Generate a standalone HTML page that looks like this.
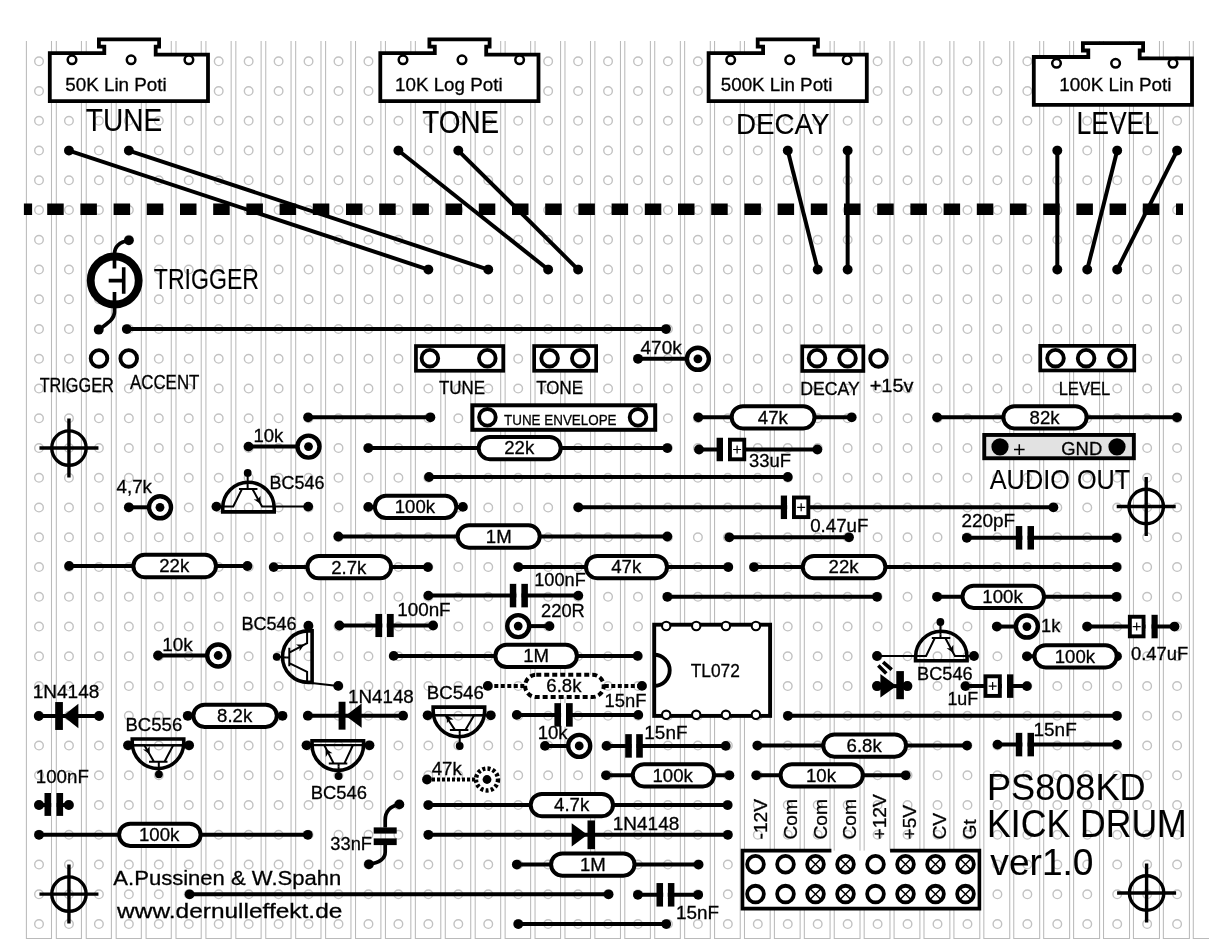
<!DOCTYPE html>
<html><head><meta charset="utf-8"><style>html,body{margin:0;padding:0;background:#fff;overflow:hidden}svg{display:block;filter:grayscale(1)}text{font-family:"Liberation Sans",sans-serif;fill:#000;stroke:#000;stroke-width:0.3px}text.b{stroke-width:0.1px}</style></head>
<body><svg width="1209" height="939" viewBox="0 0 1209 939" font-family="Liberation Sans, sans-serif"><rect width="1209" height="939" fill="#fff"/>
<path d="M26.4 41V939M51.5 41V939M26.4 938.5H51.5M56.32 41V939M81.44 41V939M56.32 938.5H81.44M86.24 41V939M111.39 41V939M86.24 938.5H111.39M116.16 41V939M141.34 41V939M116.16 938.5H141.34M146.08 41V939M171.28 41V939M146.08 938.5H171.28M176 41V939M201.22 41V939M176 938.5H201.22M205.92 41V939M231.17 41V939M205.92 938.5H231.17M235.84 41V939M261.12 41V939M235.84 938.5H261.12M265.76 41V939M291.06 41V939M265.76 938.5H291.06M295.68 41V939M321 41V939M295.68 938.5H321M325.6 41V939M350.95 41V939M325.6 938.5H350.95M355.52 41V939M380.89 41V939M355.52 938.5H380.89M385.44 41V939M410.84 41V939M385.44 938.5H410.84M415.36 41V939M440.79 41V939M415.36 938.5H440.79M445.28 41V939M470.73 41V939M445.28 938.5H470.73M475.2 41V939M500.68 41V939M475.2 938.5H500.68M505.12 41V939M530.62 41V939M505.12 938.5H530.62M535.04 41V939M560.57 41V939M535.04 938.5H560.57M564.96 41V939M590.51 41V939M564.96 938.5H590.51M594.88 41V939M620.46 41V939M594.88 938.5H620.46M624.8 41V939M650.4 41V939M624.8 938.5H650.4M654.72 41V939M680.35 41V939M654.72 938.5H680.35M684.64 41V939M710.29 41V939M684.64 938.5H710.29M714.56 41V939M740.24 41V939M714.56 938.5H740.24M744.48 41V939M770.18 41V939M744.48 938.5H770.18M774.4 41V939M800.12 41V939M774.4 938.5H800.12M804.32 41V939M830.07 41V939M804.32 938.5H830.07M834.24 41V939M860.01 41V939M834.24 938.5H860.01M864.16 41V939M889.96 41V939M864.16 938.5H889.96M894.08 41V939M919.9 41V939M894.08 938.5H919.9M924 41V939M949.85 41V939M924 938.5H949.85M953.92 41V939M979.79 41V939M953.92 938.5H979.79M983.84 41V939M1009.74 41V939M983.84 938.5H1009.74M1013.76 41V939M1039.68 41V939M1013.76 938.5H1039.68M1043.68 41V939M1069.63 41V939M1043.68 938.5H1069.63M1073.6 41V939M1099.58 41V939M1073.6 938.5H1099.58M1103.52 41V939M1129.52 41V939M1103.52 938.5H1129.52M1133.44 41V939M1159.46 41V939M1133.44 938.5H1159.46M1163.36 41V939M1189.41 41V939M1163.36 938.5H1189.41M1193.28 41V939M1193.28 938.5H1209" stroke="#bababa" stroke-width="1.05" fill="none"/>
<g fill="none" stroke="#c2c2c2" stroke-width="1.4"><circle cx="39" cy="61.3" r="4.3"/><circle cx="39" cy="91.05" r="4.3"/><circle cx="39" cy="120.8" r="4.3"/><circle cx="39" cy="150.55" r="4.3"/><circle cx="39" cy="180.3" r="4.3"/><circle cx="39" cy="210.05" r="4.3"/><circle cx="39" cy="239.8" r="4.3"/><circle cx="39" cy="269.55" r="4.3"/><circle cx="39" cy="299.3" r="4.3"/><circle cx="39" cy="329.05" r="4.3"/><circle cx="39" cy="358.8" r="4.3"/><circle cx="39" cy="388.55" r="4.3"/><circle cx="39" cy="418.3" r="4.3"/><circle cx="39" cy="448.05" r="4.3"/><circle cx="39" cy="477.8" r="4.3"/><circle cx="39" cy="507.55" r="4.3"/><circle cx="39" cy="537.3" r="4.3"/><circle cx="39" cy="567.05" r="4.3"/><circle cx="39" cy="596.8" r="4.3"/><circle cx="39" cy="626.55" r="4.3"/><circle cx="39" cy="656.3" r="4.3"/><circle cx="39" cy="686.05" r="4.3"/><circle cx="39" cy="715.8" r="4.3"/><circle cx="39" cy="745.55" r="4.3"/><circle cx="39" cy="775.3" r="4.3"/><circle cx="39" cy="805.05" r="4.3"/><circle cx="39" cy="834.8" r="4.3"/><circle cx="39" cy="864.55" r="4.3"/><circle cx="39" cy="894.3" r="4.3"/><circle cx="39" cy="924.05" r="4.3"/><circle cx="68.95" cy="61.3" r="4.3"/><circle cx="68.95" cy="91.05" r="4.3"/><circle cx="68.95" cy="120.8" r="4.3"/><circle cx="68.95" cy="150.55" r="4.3"/><circle cx="68.95" cy="180.3" r="4.3"/><circle cx="68.95" cy="210.05" r="4.3"/><circle cx="68.95" cy="239.8" r="4.3"/><circle cx="68.95" cy="269.55" r="4.3"/><circle cx="68.95" cy="299.3" r="4.3"/><circle cx="68.95" cy="329.05" r="4.3"/><circle cx="68.95" cy="358.8" r="4.3"/><circle cx="68.95" cy="388.55" r="4.3"/><circle cx="68.95" cy="418.3" r="4.3"/><circle cx="68.95" cy="448.05" r="4.3"/><circle cx="68.95" cy="477.8" r="4.3"/><circle cx="68.95" cy="507.55" r="4.3"/><circle cx="68.95" cy="537.3" r="4.3"/><circle cx="68.95" cy="567.05" r="4.3"/><circle cx="68.95" cy="596.8" r="4.3"/><circle cx="68.95" cy="626.55" r="4.3"/><circle cx="68.95" cy="656.3" r="4.3"/><circle cx="68.95" cy="686.05" r="4.3"/><circle cx="68.95" cy="715.8" r="4.3"/><circle cx="68.95" cy="745.55" r="4.3"/><circle cx="68.95" cy="775.3" r="4.3"/><circle cx="68.95" cy="805.05" r="4.3"/><circle cx="68.95" cy="834.8" r="4.3"/><circle cx="68.95" cy="864.55" r="4.3"/><circle cx="68.95" cy="894.3" r="4.3"/><circle cx="68.95" cy="924.05" r="4.3"/><circle cx="98.9" cy="61.3" r="4.3"/><circle cx="98.9" cy="91.05" r="4.3"/><circle cx="98.9" cy="120.8" r="4.3"/><circle cx="98.9" cy="150.55" r="4.3"/><circle cx="98.9" cy="180.3" r="4.3"/><circle cx="98.9" cy="210.05" r="4.3"/><circle cx="98.9" cy="239.8" r="4.3"/><circle cx="98.9" cy="269.55" r="4.3"/><circle cx="98.9" cy="299.3" r="4.3"/><circle cx="98.9" cy="329.05" r="4.3"/><circle cx="98.9" cy="358.8" r="4.3"/><circle cx="98.9" cy="388.55" r="4.3"/><circle cx="98.9" cy="418.3" r="4.3"/><circle cx="98.9" cy="448.05" r="4.3"/><circle cx="98.9" cy="477.8" r="4.3"/><circle cx="98.9" cy="507.55" r="4.3"/><circle cx="98.9" cy="537.3" r="4.3"/><circle cx="98.9" cy="567.05" r="4.3"/><circle cx="98.9" cy="596.8" r="4.3"/><circle cx="98.9" cy="626.55" r="4.3"/><circle cx="98.9" cy="656.3" r="4.3"/><circle cx="98.9" cy="686.05" r="4.3"/><circle cx="98.9" cy="715.8" r="4.3"/><circle cx="98.9" cy="745.55" r="4.3"/><circle cx="98.9" cy="775.3" r="4.3"/><circle cx="98.9" cy="805.05" r="4.3"/><circle cx="98.9" cy="834.8" r="4.3"/><circle cx="98.9" cy="864.55" r="4.3"/><circle cx="98.9" cy="894.3" r="4.3"/><circle cx="98.9" cy="924.05" r="4.3"/><circle cx="128.85" cy="61.3" r="4.3"/><circle cx="128.85" cy="91.05" r="4.3"/><circle cx="128.85" cy="120.8" r="4.3"/><circle cx="128.85" cy="150.55" r="4.3"/><circle cx="128.85" cy="180.3" r="4.3"/><circle cx="128.85" cy="210.05" r="4.3"/><circle cx="128.85" cy="239.8" r="4.3"/><circle cx="128.85" cy="269.55" r="4.3"/><circle cx="128.85" cy="299.3" r="4.3"/><circle cx="128.85" cy="329.05" r="4.3"/><circle cx="128.85" cy="358.8" r="4.3"/><circle cx="128.85" cy="388.55" r="4.3"/><circle cx="128.85" cy="418.3" r="4.3"/><circle cx="128.85" cy="448.05" r="4.3"/><circle cx="128.85" cy="477.8" r="4.3"/><circle cx="128.85" cy="507.55" r="4.3"/><circle cx="128.85" cy="537.3" r="4.3"/><circle cx="128.85" cy="567.05" r="4.3"/><circle cx="128.85" cy="596.8" r="4.3"/><circle cx="128.85" cy="626.55" r="4.3"/><circle cx="128.85" cy="656.3" r="4.3"/><circle cx="128.85" cy="686.05" r="4.3"/><circle cx="128.85" cy="715.8" r="4.3"/><circle cx="128.85" cy="745.55" r="4.3"/><circle cx="128.85" cy="775.3" r="4.3"/><circle cx="128.85" cy="805.05" r="4.3"/><circle cx="128.85" cy="834.8" r="4.3"/><circle cx="128.85" cy="864.55" r="4.3"/><circle cx="128.85" cy="894.3" r="4.3"/><circle cx="128.85" cy="924.05" r="4.3"/><circle cx="158.8" cy="61.3" r="4.3"/><circle cx="158.8" cy="91.05" r="4.3"/><circle cx="158.8" cy="120.8" r="4.3"/><circle cx="158.8" cy="150.55" r="4.3"/><circle cx="158.8" cy="180.3" r="4.3"/><circle cx="158.8" cy="210.05" r="4.3"/><circle cx="158.8" cy="239.8" r="4.3"/><circle cx="158.8" cy="269.55" r="4.3"/><circle cx="158.8" cy="299.3" r="4.3"/><circle cx="158.8" cy="329.05" r="4.3"/><circle cx="158.8" cy="358.8" r="4.3"/><circle cx="158.8" cy="388.55" r="4.3"/><circle cx="158.8" cy="418.3" r="4.3"/><circle cx="158.8" cy="448.05" r="4.3"/><circle cx="158.8" cy="477.8" r="4.3"/><circle cx="158.8" cy="507.55" r="4.3"/><circle cx="158.8" cy="537.3" r="4.3"/><circle cx="158.8" cy="567.05" r="4.3"/><circle cx="158.8" cy="596.8" r="4.3"/><circle cx="158.8" cy="626.55" r="4.3"/><circle cx="158.8" cy="656.3" r="4.3"/><circle cx="158.8" cy="686.05" r="4.3"/><circle cx="158.8" cy="715.8" r="4.3"/><circle cx="158.8" cy="745.55" r="4.3"/><circle cx="158.8" cy="775.3" r="4.3"/><circle cx="158.8" cy="805.05" r="4.3"/><circle cx="158.8" cy="834.8" r="4.3"/><circle cx="158.8" cy="864.55" r="4.3"/><circle cx="158.8" cy="894.3" r="4.3"/><circle cx="158.8" cy="924.05" r="4.3"/><circle cx="188.75" cy="61.3" r="4.3"/><circle cx="188.75" cy="91.05" r="4.3"/><circle cx="188.75" cy="120.8" r="4.3"/><circle cx="188.75" cy="150.55" r="4.3"/><circle cx="188.75" cy="180.3" r="4.3"/><circle cx="188.75" cy="210.05" r="4.3"/><circle cx="188.75" cy="239.8" r="4.3"/><circle cx="188.75" cy="269.55" r="4.3"/><circle cx="188.75" cy="299.3" r="4.3"/><circle cx="188.75" cy="329.05" r="4.3"/><circle cx="188.75" cy="358.8" r="4.3"/><circle cx="188.75" cy="388.55" r="4.3"/><circle cx="188.75" cy="418.3" r="4.3"/><circle cx="188.75" cy="448.05" r="4.3"/><circle cx="188.75" cy="477.8" r="4.3"/><circle cx="188.75" cy="507.55" r="4.3"/><circle cx="188.75" cy="537.3" r="4.3"/><circle cx="188.75" cy="567.05" r="4.3"/><circle cx="188.75" cy="596.8" r="4.3"/><circle cx="188.75" cy="626.55" r="4.3"/><circle cx="188.75" cy="656.3" r="4.3"/><circle cx="188.75" cy="686.05" r="4.3"/><circle cx="188.75" cy="715.8" r="4.3"/><circle cx="188.75" cy="745.55" r="4.3"/><circle cx="188.75" cy="775.3" r="4.3"/><circle cx="188.75" cy="805.05" r="4.3"/><circle cx="188.75" cy="834.8" r="4.3"/><circle cx="188.75" cy="864.55" r="4.3"/><circle cx="188.75" cy="894.3" r="4.3"/><circle cx="188.75" cy="924.05" r="4.3"/><circle cx="218.7" cy="61.3" r="4.3"/><circle cx="218.7" cy="91.05" r="4.3"/><circle cx="218.7" cy="120.8" r="4.3"/><circle cx="218.7" cy="150.55" r="4.3"/><circle cx="218.7" cy="180.3" r="4.3"/><circle cx="218.7" cy="210.05" r="4.3"/><circle cx="218.7" cy="239.8" r="4.3"/><circle cx="218.7" cy="269.55" r="4.3"/><circle cx="218.7" cy="299.3" r="4.3"/><circle cx="218.7" cy="329.05" r="4.3"/><circle cx="218.7" cy="358.8" r="4.3"/><circle cx="218.7" cy="388.55" r="4.3"/><circle cx="218.7" cy="418.3" r="4.3"/><circle cx="218.7" cy="448.05" r="4.3"/><circle cx="218.7" cy="477.8" r="4.3"/><circle cx="218.7" cy="507.55" r="4.3"/><circle cx="218.7" cy="537.3" r="4.3"/><circle cx="218.7" cy="567.05" r="4.3"/><circle cx="218.7" cy="596.8" r="4.3"/><circle cx="218.7" cy="626.55" r="4.3"/><circle cx="218.7" cy="656.3" r="4.3"/><circle cx="218.7" cy="686.05" r="4.3"/><circle cx="218.7" cy="715.8" r="4.3"/><circle cx="218.7" cy="745.55" r="4.3"/><circle cx="218.7" cy="775.3" r="4.3"/><circle cx="218.7" cy="805.05" r="4.3"/><circle cx="218.7" cy="834.8" r="4.3"/><circle cx="218.7" cy="864.55" r="4.3"/><circle cx="218.7" cy="894.3" r="4.3"/><circle cx="218.7" cy="924.05" r="4.3"/><circle cx="248.65" cy="61.3" r="4.3"/><circle cx="248.65" cy="91.05" r="4.3"/><circle cx="248.65" cy="120.8" r="4.3"/><circle cx="248.65" cy="150.55" r="4.3"/><circle cx="248.65" cy="180.3" r="4.3"/><circle cx="248.65" cy="210.05" r="4.3"/><circle cx="248.65" cy="239.8" r="4.3"/><circle cx="248.65" cy="269.55" r="4.3"/><circle cx="248.65" cy="299.3" r="4.3"/><circle cx="248.65" cy="329.05" r="4.3"/><circle cx="248.65" cy="358.8" r="4.3"/><circle cx="248.65" cy="388.55" r="4.3"/><circle cx="248.65" cy="418.3" r="4.3"/><circle cx="248.65" cy="448.05" r="4.3"/><circle cx="248.65" cy="477.8" r="4.3"/><circle cx="248.65" cy="507.55" r="4.3"/><circle cx="248.65" cy="537.3" r="4.3"/><circle cx="248.65" cy="567.05" r="4.3"/><circle cx="248.65" cy="596.8" r="4.3"/><circle cx="248.65" cy="626.55" r="4.3"/><circle cx="248.65" cy="656.3" r="4.3"/><circle cx="248.65" cy="686.05" r="4.3"/><circle cx="248.65" cy="715.8" r="4.3"/><circle cx="248.65" cy="745.55" r="4.3"/><circle cx="248.65" cy="775.3" r="4.3"/><circle cx="248.65" cy="805.05" r="4.3"/><circle cx="248.65" cy="834.8" r="4.3"/><circle cx="248.65" cy="864.55" r="4.3"/><circle cx="248.65" cy="894.3" r="4.3"/><circle cx="248.65" cy="924.05" r="4.3"/><circle cx="278.6" cy="61.3" r="4.3"/><circle cx="278.6" cy="91.05" r="4.3"/><circle cx="278.6" cy="120.8" r="4.3"/><circle cx="278.6" cy="150.55" r="4.3"/><circle cx="278.6" cy="180.3" r="4.3"/><circle cx="278.6" cy="210.05" r="4.3"/><circle cx="278.6" cy="239.8" r="4.3"/><circle cx="278.6" cy="269.55" r="4.3"/><circle cx="278.6" cy="299.3" r="4.3"/><circle cx="278.6" cy="329.05" r="4.3"/><circle cx="278.6" cy="358.8" r="4.3"/><circle cx="278.6" cy="388.55" r="4.3"/><circle cx="278.6" cy="418.3" r="4.3"/><circle cx="278.6" cy="448.05" r="4.3"/><circle cx="278.6" cy="477.8" r="4.3"/><circle cx="278.6" cy="507.55" r="4.3"/><circle cx="278.6" cy="537.3" r="4.3"/><circle cx="278.6" cy="567.05" r="4.3"/><circle cx="278.6" cy="596.8" r="4.3"/><circle cx="278.6" cy="626.55" r="4.3"/><circle cx="278.6" cy="656.3" r="4.3"/><circle cx="278.6" cy="686.05" r="4.3"/><circle cx="278.6" cy="715.8" r="4.3"/><circle cx="278.6" cy="745.55" r="4.3"/><circle cx="278.6" cy="775.3" r="4.3"/><circle cx="278.6" cy="805.05" r="4.3"/><circle cx="278.6" cy="834.8" r="4.3"/><circle cx="278.6" cy="864.55" r="4.3"/><circle cx="278.6" cy="894.3" r="4.3"/><circle cx="278.6" cy="924.05" r="4.3"/><circle cx="308.55" cy="61.3" r="4.3"/><circle cx="308.55" cy="91.05" r="4.3"/><circle cx="308.55" cy="120.8" r="4.3"/><circle cx="308.55" cy="150.55" r="4.3"/><circle cx="308.55" cy="180.3" r="4.3"/><circle cx="308.55" cy="210.05" r="4.3"/><circle cx="308.55" cy="239.8" r="4.3"/><circle cx="308.55" cy="269.55" r="4.3"/><circle cx="308.55" cy="299.3" r="4.3"/><circle cx="308.55" cy="329.05" r="4.3"/><circle cx="308.55" cy="358.8" r="4.3"/><circle cx="308.55" cy="388.55" r="4.3"/><circle cx="308.55" cy="418.3" r="4.3"/><circle cx="308.55" cy="448.05" r="4.3"/><circle cx="308.55" cy="477.8" r="4.3"/><circle cx="308.55" cy="507.55" r="4.3"/><circle cx="308.55" cy="537.3" r="4.3"/><circle cx="308.55" cy="567.05" r="4.3"/><circle cx="308.55" cy="596.8" r="4.3"/><circle cx="308.55" cy="626.55" r="4.3"/><circle cx="308.55" cy="656.3" r="4.3"/><circle cx="308.55" cy="686.05" r="4.3"/><circle cx="308.55" cy="715.8" r="4.3"/><circle cx="308.55" cy="745.55" r="4.3"/><circle cx="308.55" cy="775.3" r="4.3"/><circle cx="308.55" cy="805.05" r="4.3"/><circle cx="308.55" cy="834.8" r="4.3"/><circle cx="308.55" cy="864.55" r="4.3"/><circle cx="308.55" cy="894.3" r="4.3"/><circle cx="308.55" cy="924.05" r="4.3"/><circle cx="338.5" cy="61.3" r="4.3"/><circle cx="338.5" cy="91.05" r="4.3"/><circle cx="338.5" cy="120.8" r="4.3"/><circle cx="338.5" cy="150.55" r="4.3"/><circle cx="338.5" cy="180.3" r="4.3"/><circle cx="338.5" cy="210.05" r="4.3"/><circle cx="338.5" cy="239.8" r="4.3"/><circle cx="338.5" cy="269.55" r="4.3"/><circle cx="338.5" cy="299.3" r="4.3"/><circle cx="338.5" cy="329.05" r="4.3"/><circle cx="338.5" cy="358.8" r="4.3"/><circle cx="338.5" cy="388.55" r="4.3"/><circle cx="338.5" cy="418.3" r="4.3"/><circle cx="338.5" cy="448.05" r="4.3"/><circle cx="338.5" cy="477.8" r="4.3"/><circle cx="338.5" cy="507.55" r="4.3"/><circle cx="338.5" cy="537.3" r="4.3"/><circle cx="338.5" cy="567.05" r="4.3"/><circle cx="338.5" cy="596.8" r="4.3"/><circle cx="338.5" cy="626.55" r="4.3"/><circle cx="338.5" cy="656.3" r="4.3"/><circle cx="338.5" cy="686.05" r="4.3"/><circle cx="338.5" cy="715.8" r="4.3"/><circle cx="338.5" cy="745.55" r="4.3"/><circle cx="338.5" cy="775.3" r="4.3"/><circle cx="338.5" cy="805.05" r="4.3"/><circle cx="338.5" cy="834.8" r="4.3"/><circle cx="338.5" cy="864.55" r="4.3"/><circle cx="338.5" cy="894.3" r="4.3"/><circle cx="338.5" cy="924.05" r="4.3"/><circle cx="368.45" cy="61.3" r="4.3"/><circle cx="368.45" cy="91.05" r="4.3"/><circle cx="368.45" cy="120.8" r="4.3"/><circle cx="368.45" cy="150.55" r="4.3"/><circle cx="368.45" cy="180.3" r="4.3"/><circle cx="368.45" cy="210.05" r="4.3"/><circle cx="368.45" cy="239.8" r="4.3"/><circle cx="368.45" cy="269.55" r="4.3"/><circle cx="368.45" cy="299.3" r="4.3"/><circle cx="368.45" cy="329.05" r="4.3"/><circle cx="368.45" cy="358.8" r="4.3"/><circle cx="368.45" cy="388.55" r="4.3"/><circle cx="368.45" cy="418.3" r="4.3"/><circle cx="368.45" cy="448.05" r="4.3"/><circle cx="368.45" cy="477.8" r="4.3"/><circle cx="368.45" cy="507.55" r="4.3"/><circle cx="368.45" cy="537.3" r="4.3"/><circle cx="368.45" cy="567.05" r="4.3"/><circle cx="368.45" cy="596.8" r="4.3"/><circle cx="368.45" cy="626.55" r="4.3"/><circle cx="368.45" cy="656.3" r="4.3"/><circle cx="368.45" cy="686.05" r="4.3"/><circle cx="368.45" cy="715.8" r="4.3"/><circle cx="368.45" cy="745.55" r="4.3"/><circle cx="368.45" cy="775.3" r="4.3"/><circle cx="368.45" cy="805.05" r="4.3"/><circle cx="368.45" cy="834.8" r="4.3"/><circle cx="368.45" cy="864.55" r="4.3"/><circle cx="368.45" cy="894.3" r="4.3"/><circle cx="368.45" cy="924.05" r="4.3"/><circle cx="398.4" cy="61.3" r="4.3"/><circle cx="398.4" cy="91.05" r="4.3"/><circle cx="398.4" cy="120.8" r="4.3"/><circle cx="398.4" cy="150.55" r="4.3"/><circle cx="398.4" cy="180.3" r="4.3"/><circle cx="398.4" cy="210.05" r="4.3"/><circle cx="398.4" cy="239.8" r="4.3"/><circle cx="398.4" cy="269.55" r="4.3"/><circle cx="398.4" cy="299.3" r="4.3"/><circle cx="398.4" cy="329.05" r="4.3"/><circle cx="398.4" cy="358.8" r="4.3"/><circle cx="398.4" cy="388.55" r="4.3"/><circle cx="398.4" cy="418.3" r="4.3"/><circle cx="398.4" cy="448.05" r="4.3"/><circle cx="398.4" cy="477.8" r="4.3"/><circle cx="398.4" cy="507.55" r="4.3"/><circle cx="398.4" cy="537.3" r="4.3"/><circle cx="398.4" cy="567.05" r="4.3"/><circle cx="398.4" cy="596.8" r="4.3"/><circle cx="398.4" cy="626.55" r="4.3"/><circle cx="398.4" cy="656.3" r="4.3"/><circle cx="398.4" cy="686.05" r="4.3"/><circle cx="398.4" cy="715.8" r="4.3"/><circle cx="398.4" cy="745.55" r="4.3"/><circle cx="398.4" cy="775.3" r="4.3"/><circle cx="398.4" cy="805.05" r="4.3"/><circle cx="398.4" cy="834.8" r="4.3"/><circle cx="398.4" cy="864.55" r="4.3"/><circle cx="398.4" cy="894.3" r="4.3"/><circle cx="398.4" cy="924.05" r="4.3"/><circle cx="428.35" cy="61.3" r="4.3"/><circle cx="428.35" cy="91.05" r="4.3"/><circle cx="428.35" cy="120.8" r="4.3"/><circle cx="428.35" cy="150.55" r="4.3"/><circle cx="428.35" cy="180.3" r="4.3"/><circle cx="428.35" cy="210.05" r="4.3"/><circle cx="428.35" cy="239.8" r="4.3"/><circle cx="428.35" cy="269.55" r="4.3"/><circle cx="428.35" cy="299.3" r="4.3"/><circle cx="428.35" cy="329.05" r="4.3"/><circle cx="428.35" cy="358.8" r="4.3"/><circle cx="428.35" cy="388.55" r="4.3"/><circle cx="428.35" cy="418.3" r="4.3"/><circle cx="428.35" cy="448.05" r="4.3"/><circle cx="428.35" cy="477.8" r="4.3"/><circle cx="428.35" cy="507.55" r="4.3"/><circle cx="428.35" cy="537.3" r="4.3"/><circle cx="428.35" cy="567.05" r="4.3"/><circle cx="428.35" cy="596.8" r="4.3"/><circle cx="428.35" cy="626.55" r="4.3"/><circle cx="428.35" cy="656.3" r="4.3"/><circle cx="428.35" cy="686.05" r="4.3"/><circle cx="428.35" cy="715.8" r="4.3"/><circle cx="428.35" cy="745.55" r="4.3"/><circle cx="428.35" cy="775.3" r="4.3"/><circle cx="428.35" cy="805.05" r="4.3"/><circle cx="428.35" cy="834.8" r="4.3"/><circle cx="428.35" cy="864.55" r="4.3"/><circle cx="428.35" cy="894.3" r="4.3"/><circle cx="428.35" cy="924.05" r="4.3"/><circle cx="458.3" cy="61.3" r="4.3"/><circle cx="458.3" cy="91.05" r="4.3"/><circle cx="458.3" cy="120.8" r="4.3"/><circle cx="458.3" cy="150.55" r="4.3"/><circle cx="458.3" cy="180.3" r="4.3"/><circle cx="458.3" cy="210.05" r="4.3"/><circle cx="458.3" cy="239.8" r="4.3"/><circle cx="458.3" cy="269.55" r="4.3"/><circle cx="458.3" cy="299.3" r="4.3"/><circle cx="458.3" cy="329.05" r="4.3"/><circle cx="458.3" cy="358.8" r="4.3"/><circle cx="458.3" cy="388.55" r="4.3"/><circle cx="458.3" cy="418.3" r="4.3"/><circle cx="458.3" cy="448.05" r="4.3"/><circle cx="458.3" cy="477.8" r="4.3"/><circle cx="458.3" cy="507.55" r="4.3"/><circle cx="458.3" cy="537.3" r="4.3"/><circle cx="458.3" cy="567.05" r="4.3"/><circle cx="458.3" cy="596.8" r="4.3"/><circle cx="458.3" cy="626.55" r="4.3"/><circle cx="458.3" cy="656.3" r="4.3"/><circle cx="458.3" cy="686.05" r="4.3"/><circle cx="458.3" cy="715.8" r="4.3"/><circle cx="458.3" cy="745.55" r="4.3"/><circle cx="458.3" cy="775.3" r="4.3"/><circle cx="458.3" cy="805.05" r="4.3"/><circle cx="458.3" cy="834.8" r="4.3"/><circle cx="458.3" cy="864.55" r="4.3"/><circle cx="458.3" cy="894.3" r="4.3"/><circle cx="458.3" cy="924.05" r="4.3"/><circle cx="488.25" cy="61.3" r="4.3"/><circle cx="488.25" cy="91.05" r="4.3"/><circle cx="488.25" cy="120.8" r="4.3"/><circle cx="488.25" cy="150.55" r="4.3"/><circle cx="488.25" cy="180.3" r="4.3"/><circle cx="488.25" cy="210.05" r="4.3"/><circle cx="488.25" cy="239.8" r="4.3"/><circle cx="488.25" cy="269.55" r="4.3"/><circle cx="488.25" cy="299.3" r="4.3"/><circle cx="488.25" cy="329.05" r="4.3"/><circle cx="488.25" cy="358.8" r="4.3"/><circle cx="488.25" cy="388.55" r="4.3"/><circle cx="488.25" cy="418.3" r="4.3"/><circle cx="488.25" cy="448.05" r="4.3"/><circle cx="488.25" cy="477.8" r="4.3"/><circle cx="488.25" cy="507.55" r="4.3"/><circle cx="488.25" cy="537.3" r="4.3"/><circle cx="488.25" cy="567.05" r="4.3"/><circle cx="488.25" cy="596.8" r="4.3"/><circle cx="488.25" cy="626.55" r="4.3"/><circle cx="488.25" cy="656.3" r="4.3"/><circle cx="488.25" cy="686.05" r="4.3"/><circle cx="488.25" cy="715.8" r="4.3"/><circle cx="488.25" cy="745.55" r="4.3"/><circle cx="488.25" cy="775.3" r="4.3"/><circle cx="488.25" cy="805.05" r="4.3"/><circle cx="488.25" cy="834.8" r="4.3"/><circle cx="488.25" cy="864.55" r="4.3"/><circle cx="488.25" cy="894.3" r="4.3"/><circle cx="488.25" cy="924.05" r="4.3"/><circle cx="518.2" cy="61.3" r="4.3"/><circle cx="518.2" cy="91.05" r="4.3"/><circle cx="518.2" cy="120.8" r="4.3"/><circle cx="518.2" cy="150.55" r="4.3"/><circle cx="518.2" cy="180.3" r="4.3"/><circle cx="518.2" cy="210.05" r="4.3"/><circle cx="518.2" cy="239.8" r="4.3"/><circle cx="518.2" cy="269.55" r="4.3"/><circle cx="518.2" cy="299.3" r="4.3"/><circle cx="518.2" cy="329.05" r="4.3"/><circle cx="518.2" cy="358.8" r="4.3"/><circle cx="518.2" cy="388.55" r="4.3"/><circle cx="518.2" cy="418.3" r="4.3"/><circle cx="518.2" cy="448.05" r="4.3"/><circle cx="518.2" cy="477.8" r="4.3"/><circle cx="518.2" cy="507.55" r="4.3"/><circle cx="518.2" cy="537.3" r="4.3"/><circle cx="518.2" cy="567.05" r="4.3"/><circle cx="518.2" cy="596.8" r="4.3"/><circle cx="518.2" cy="626.55" r="4.3"/><circle cx="518.2" cy="656.3" r="4.3"/><circle cx="518.2" cy="686.05" r="4.3"/><circle cx="518.2" cy="715.8" r="4.3"/><circle cx="518.2" cy="745.55" r="4.3"/><circle cx="518.2" cy="775.3" r="4.3"/><circle cx="518.2" cy="805.05" r="4.3"/><circle cx="518.2" cy="834.8" r="4.3"/><circle cx="518.2" cy="864.55" r="4.3"/><circle cx="518.2" cy="894.3" r="4.3"/><circle cx="518.2" cy="924.05" r="4.3"/><circle cx="548.15" cy="61.3" r="4.3"/><circle cx="548.15" cy="91.05" r="4.3"/><circle cx="548.15" cy="120.8" r="4.3"/><circle cx="548.15" cy="150.55" r="4.3"/><circle cx="548.15" cy="180.3" r="4.3"/><circle cx="548.15" cy="210.05" r="4.3"/><circle cx="548.15" cy="239.8" r="4.3"/><circle cx="548.15" cy="269.55" r="4.3"/><circle cx="548.15" cy="299.3" r="4.3"/><circle cx="548.15" cy="329.05" r="4.3"/><circle cx="548.15" cy="358.8" r="4.3"/><circle cx="548.15" cy="388.55" r="4.3"/><circle cx="548.15" cy="418.3" r="4.3"/><circle cx="548.15" cy="448.05" r="4.3"/><circle cx="548.15" cy="477.8" r="4.3"/><circle cx="548.15" cy="507.55" r="4.3"/><circle cx="548.15" cy="537.3" r="4.3"/><circle cx="548.15" cy="567.05" r="4.3"/><circle cx="548.15" cy="596.8" r="4.3"/><circle cx="548.15" cy="626.55" r="4.3"/><circle cx="548.15" cy="656.3" r="4.3"/><circle cx="548.15" cy="686.05" r="4.3"/><circle cx="548.15" cy="715.8" r="4.3"/><circle cx="548.15" cy="745.55" r="4.3"/><circle cx="548.15" cy="775.3" r="4.3"/><circle cx="548.15" cy="805.05" r="4.3"/><circle cx="548.15" cy="834.8" r="4.3"/><circle cx="548.15" cy="864.55" r="4.3"/><circle cx="548.15" cy="894.3" r="4.3"/><circle cx="548.15" cy="924.05" r="4.3"/><circle cx="578.1" cy="61.3" r="4.3"/><circle cx="578.1" cy="91.05" r="4.3"/><circle cx="578.1" cy="120.8" r="4.3"/><circle cx="578.1" cy="150.55" r="4.3"/><circle cx="578.1" cy="180.3" r="4.3"/><circle cx="578.1" cy="210.05" r="4.3"/><circle cx="578.1" cy="239.8" r="4.3"/><circle cx="578.1" cy="269.55" r="4.3"/><circle cx="578.1" cy="299.3" r="4.3"/><circle cx="578.1" cy="329.05" r="4.3"/><circle cx="578.1" cy="358.8" r="4.3"/><circle cx="578.1" cy="388.55" r="4.3"/><circle cx="578.1" cy="418.3" r="4.3"/><circle cx="578.1" cy="448.05" r="4.3"/><circle cx="578.1" cy="477.8" r="4.3"/><circle cx="578.1" cy="507.55" r="4.3"/><circle cx="578.1" cy="537.3" r="4.3"/><circle cx="578.1" cy="567.05" r="4.3"/><circle cx="578.1" cy="596.8" r="4.3"/><circle cx="578.1" cy="626.55" r="4.3"/><circle cx="578.1" cy="656.3" r="4.3"/><circle cx="578.1" cy="686.05" r="4.3"/><circle cx="578.1" cy="715.8" r="4.3"/><circle cx="578.1" cy="745.55" r="4.3"/><circle cx="578.1" cy="775.3" r="4.3"/><circle cx="578.1" cy="805.05" r="4.3"/><circle cx="578.1" cy="834.8" r="4.3"/><circle cx="578.1" cy="864.55" r="4.3"/><circle cx="578.1" cy="894.3" r="4.3"/><circle cx="578.1" cy="924.05" r="4.3"/><circle cx="608.05" cy="61.3" r="4.3"/><circle cx="608.05" cy="91.05" r="4.3"/><circle cx="608.05" cy="120.8" r="4.3"/><circle cx="608.05" cy="150.55" r="4.3"/><circle cx="608.05" cy="180.3" r="4.3"/><circle cx="608.05" cy="210.05" r="4.3"/><circle cx="608.05" cy="239.8" r="4.3"/><circle cx="608.05" cy="269.55" r="4.3"/><circle cx="608.05" cy="299.3" r="4.3"/><circle cx="608.05" cy="329.05" r="4.3"/><circle cx="608.05" cy="358.8" r="4.3"/><circle cx="608.05" cy="388.55" r="4.3"/><circle cx="608.05" cy="418.3" r="4.3"/><circle cx="608.05" cy="448.05" r="4.3"/><circle cx="608.05" cy="477.8" r="4.3"/><circle cx="608.05" cy="507.55" r="4.3"/><circle cx="608.05" cy="537.3" r="4.3"/><circle cx="608.05" cy="567.05" r="4.3"/><circle cx="608.05" cy="596.8" r="4.3"/><circle cx="608.05" cy="626.55" r="4.3"/><circle cx="608.05" cy="656.3" r="4.3"/><circle cx="608.05" cy="686.05" r="4.3"/><circle cx="608.05" cy="715.8" r="4.3"/><circle cx="608.05" cy="745.55" r="4.3"/><circle cx="608.05" cy="775.3" r="4.3"/><circle cx="608.05" cy="805.05" r="4.3"/><circle cx="608.05" cy="834.8" r="4.3"/><circle cx="608.05" cy="864.55" r="4.3"/><circle cx="608.05" cy="894.3" r="4.3"/><circle cx="608.05" cy="924.05" r="4.3"/><circle cx="638" cy="61.3" r="4.3"/><circle cx="638" cy="91.05" r="4.3"/><circle cx="638" cy="120.8" r="4.3"/><circle cx="638" cy="150.55" r="4.3"/><circle cx="638" cy="180.3" r="4.3"/><circle cx="638" cy="210.05" r="4.3"/><circle cx="638" cy="239.8" r="4.3"/><circle cx="638" cy="269.55" r="4.3"/><circle cx="638" cy="299.3" r="4.3"/><circle cx="638" cy="329.05" r="4.3"/><circle cx="638" cy="358.8" r="4.3"/><circle cx="638" cy="388.55" r="4.3"/><circle cx="638" cy="418.3" r="4.3"/><circle cx="638" cy="448.05" r="4.3"/><circle cx="638" cy="477.8" r="4.3"/><circle cx="638" cy="507.55" r="4.3"/><circle cx="638" cy="537.3" r="4.3"/><circle cx="638" cy="567.05" r="4.3"/><circle cx="638" cy="596.8" r="4.3"/><circle cx="638" cy="626.55" r="4.3"/><circle cx="638" cy="656.3" r="4.3"/><circle cx="638" cy="686.05" r="4.3"/><circle cx="638" cy="715.8" r="4.3"/><circle cx="638" cy="745.55" r="4.3"/><circle cx="638" cy="775.3" r="4.3"/><circle cx="638" cy="805.05" r="4.3"/><circle cx="638" cy="834.8" r="4.3"/><circle cx="638" cy="864.55" r="4.3"/><circle cx="638" cy="894.3" r="4.3"/><circle cx="638" cy="924.05" r="4.3"/><circle cx="667.95" cy="61.3" r="4.3"/><circle cx="667.95" cy="91.05" r="4.3"/><circle cx="667.95" cy="120.8" r="4.3"/><circle cx="667.95" cy="150.55" r="4.3"/><circle cx="667.95" cy="180.3" r="4.3"/><circle cx="667.95" cy="210.05" r="4.3"/><circle cx="667.95" cy="239.8" r="4.3"/><circle cx="667.95" cy="269.55" r="4.3"/><circle cx="667.95" cy="299.3" r="4.3"/><circle cx="667.95" cy="329.05" r="4.3"/><circle cx="667.95" cy="358.8" r="4.3"/><circle cx="667.95" cy="388.55" r="4.3"/><circle cx="667.95" cy="418.3" r="4.3"/><circle cx="667.95" cy="448.05" r="4.3"/><circle cx="667.95" cy="477.8" r="4.3"/><circle cx="667.95" cy="507.55" r="4.3"/><circle cx="667.95" cy="537.3" r="4.3"/><circle cx="667.95" cy="567.05" r="4.3"/><circle cx="667.95" cy="596.8" r="4.3"/><circle cx="667.95" cy="626.55" r="4.3"/><circle cx="667.95" cy="656.3" r="4.3"/><circle cx="667.95" cy="686.05" r="4.3"/><circle cx="667.95" cy="715.8" r="4.3"/><circle cx="667.95" cy="745.55" r="4.3"/><circle cx="667.95" cy="775.3" r="4.3"/><circle cx="667.95" cy="805.05" r="4.3"/><circle cx="667.95" cy="834.8" r="4.3"/><circle cx="667.95" cy="864.55" r="4.3"/><circle cx="667.95" cy="894.3" r="4.3"/><circle cx="667.95" cy="924.05" r="4.3"/><circle cx="697.9" cy="61.3" r="4.3"/><circle cx="697.9" cy="91.05" r="4.3"/><circle cx="697.9" cy="120.8" r="4.3"/><circle cx="697.9" cy="150.55" r="4.3"/><circle cx="697.9" cy="180.3" r="4.3"/><circle cx="697.9" cy="210.05" r="4.3"/><circle cx="697.9" cy="239.8" r="4.3"/><circle cx="697.9" cy="269.55" r="4.3"/><circle cx="697.9" cy="299.3" r="4.3"/><circle cx="697.9" cy="329.05" r="4.3"/><circle cx="697.9" cy="358.8" r="4.3"/><circle cx="697.9" cy="388.55" r="4.3"/><circle cx="697.9" cy="418.3" r="4.3"/><circle cx="697.9" cy="448.05" r="4.3"/><circle cx="697.9" cy="477.8" r="4.3"/><circle cx="697.9" cy="507.55" r="4.3"/><circle cx="697.9" cy="537.3" r="4.3"/><circle cx="697.9" cy="567.05" r="4.3"/><circle cx="697.9" cy="596.8" r="4.3"/><circle cx="697.9" cy="626.55" r="4.3"/><circle cx="697.9" cy="656.3" r="4.3"/><circle cx="697.9" cy="686.05" r="4.3"/><circle cx="697.9" cy="715.8" r="4.3"/><circle cx="697.9" cy="745.55" r="4.3"/><circle cx="697.9" cy="775.3" r="4.3"/><circle cx="697.9" cy="805.05" r="4.3"/><circle cx="697.9" cy="834.8" r="4.3"/><circle cx="697.9" cy="864.55" r="4.3"/><circle cx="697.9" cy="894.3" r="4.3"/><circle cx="697.9" cy="924.05" r="4.3"/><circle cx="727.85" cy="61.3" r="4.3"/><circle cx="727.85" cy="91.05" r="4.3"/><circle cx="727.85" cy="120.8" r="4.3"/><circle cx="727.85" cy="150.55" r="4.3"/><circle cx="727.85" cy="180.3" r="4.3"/><circle cx="727.85" cy="210.05" r="4.3"/><circle cx="727.85" cy="239.8" r="4.3"/><circle cx="727.85" cy="269.55" r="4.3"/><circle cx="727.85" cy="299.3" r="4.3"/><circle cx="727.85" cy="329.05" r="4.3"/><circle cx="727.85" cy="358.8" r="4.3"/><circle cx="727.85" cy="388.55" r="4.3"/><circle cx="727.85" cy="418.3" r="4.3"/><circle cx="727.85" cy="448.05" r="4.3"/><circle cx="727.85" cy="477.8" r="4.3"/><circle cx="727.85" cy="507.55" r="4.3"/><circle cx="727.85" cy="537.3" r="4.3"/><circle cx="727.85" cy="567.05" r="4.3"/><circle cx="727.85" cy="596.8" r="4.3"/><circle cx="727.85" cy="626.55" r="4.3"/><circle cx="727.85" cy="656.3" r="4.3"/><circle cx="727.85" cy="686.05" r="4.3"/><circle cx="727.85" cy="715.8" r="4.3"/><circle cx="727.85" cy="745.55" r="4.3"/><circle cx="727.85" cy="775.3" r="4.3"/><circle cx="727.85" cy="805.05" r="4.3"/><circle cx="727.85" cy="834.8" r="4.3"/><circle cx="727.85" cy="864.55" r="4.3"/><circle cx="727.85" cy="894.3" r="4.3"/><circle cx="727.85" cy="924.05" r="4.3"/><circle cx="757.8" cy="61.3" r="4.3"/><circle cx="757.8" cy="91.05" r="4.3"/><circle cx="757.8" cy="120.8" r="4.3"/><circle cx="757.8" cy="150.55" r="4.3"/><circle cx="757.8" cy="180.3" r="4.3"/><circle cx="757.8" cy="210.05" r="4.3"/><circle cx="757.8" cy="239.8" r="4.3"/><circle cx="757.8" cy="269.55" r="4.3"/><circle cx="757.8" cy="299.3" r="4.3"/><circle cx="757.8" cy="329.05" r="4.3"/><circle cx="757.8" cy="358.8" r="4.3"/><circle cx="757.8" cy="388.55" r="4.3"/><circle cx="757.8" cy="418.3" r="4.3"/><circle cx="757.8" cy="448.05" r="4.3"/><circle cx="757.8" cy="477.8" r="4.3"/><circle cx="757.8" cy="507.55" r="4.3"/><circle cx="757.8" cy="537.3" r="4.3"/><circle cx="757.8" cy="567.05" r="4.3"/><circle cx="757.8" cy="596.8" r="4.3"/><circle cx="757.8" cy="626.55" r="4.3"/><circle cx="757.8" cy="656.3" r="4.3"/><circle cx="757.8" cy="686.05" r="4.3"/><circle cx="757.8" cy="715.8" r="4.3"/><circle cx="757.8" cy="745.55" r="4.3"/><circle cx="757.8" cy="775.3" r="4.3"/><circle cx="757.8" cy="805.05" r="4.3"/><circle cx="757.8" cy="834.8" r="4.3"/><circle cx="757.8" cy="864.55" r="4.3"/><circle cx="757.8" cy="894.3" r="4.3"/><circle cx="757.8" cy="924.05" r="4.3"/><circle cx="787.75" cy="61.3" r="4.3"/><circle cx="787.75" cy="91.05" r="4.3"/><circle cx="787.75" cy="120.8" r="4.3"/><circle cx="787.75" cy="150.55" r="4.3"/><circle cx="787.75" cy="180.3" r="4.3"/><circle cx="787.75" cy="210.05" r="4.3"/><circle cx="787.75" cy="239.8" r="4.3"/><circle cx="787.75" cy="269.55" r="4.3"/><circle cx="787.75" cy="299.3" r="4.3"/><circle cx="787.75" cy="329.05" r="4.3"/><circle cx="787.75" cy="358.8" r="4.3"/><circle cx="787.75" cy="388.55" r="4.3"/><circle cx="787.75" cy="418.3" r="4.3"/><circle cx="787.75" cy="448.05" r="4.3"/><circle cx="787.75" cy="477.8" r="4.3"/><circle cx="787.75" cy="507.55" r="4.3"/><circle cx="787.75" cy="537.3" r="4.3"/><circle cx="787.75" cy="567.05" r="4.3"/><circle cx="787.75" cy="596.8" r="4.3"/><circle cx="787.75" cy="626.55" r="4.3"/><circle cx="787.75" cy="656.3" r="4.3"/><circle cx="787.75" cy="686.05" r="4.3"/><circle cx="787.75" cy="715.8" r="4.3"/><circle cx="787.75" cy="745.55" r="4.3"/><circle cx="787.75" cy="775.3" r="4.3"/><circle cx="787.75" cy="805.05" r="4.3"/><circle cx="787.75" cy="834.8" r="4.3"/><circle cx="787.75" cy="864.55" r="4.3"/><circle cx="787.75" cy="894.3" r="4.3"/><circle cx="787.75" cy="924.05" r="4.3"/><circle cx="817.7" cy="61.3" r="4.3"/><circle cx="817.7" cy="91.05" r="4.3"/><circle cx="817.7" cy="120.8" r="4.3"/><circle cx="817.7" cy="150.55" r="4.3"/><circle cx="817.7" cy="180.3" r="4.3"/><circle cx="817.7" cy="210.05" r="4.3"/><circle cx="817.7" cy="239.8" r="4.3"/><circle cx="817.7" cy="269.55" r="4.3"/><circle cx="817.7" cy="299.3" r="4.3"/><circle cx="817.7" cy="329.05" r="4.3"/><circle cx="817.7" cy="358.8" r="4.3"/><circle cx="817.7" cy="388.55" r="4.3"/><circle cx="817.7" cy="418.3" r="4.3"/><circle cx="817.7" cy="448.05" r="4.3"/><circle cx="817.7" cy="477.8" r="4.3"/><circle cx="817.7" cy="507.55" r="4.3"/><circle cx="817.7" cy="537.3" r="4.3"/><circle cx="817.7" cy="567.05" r="4.3"/><circle cx="817.7" cy="596.8" r="4.3"/><circle cx="817.7" cy="626.55" r="4.3"/><circle cx="817.7" cy="656.3" r="4.3"/><circle cx="817.7" cy="686.05" r="4.3"/><circle cx="817.7" cy="715.8" r="4.3"/><circle cx="817.7" cy="745.55" r="4.3"/><circle cx="817.7" cy="775.3" r="4.3"/><circle cx="817.7" cy="805.05" r="4.3"/><circle cx="817.7" cy="834.8" r="4.3"/><circle cx="817.7" cy="864.55" r="4.3"/><circle cx="817.7" cy="894.3" r="4.3"/><circle cx="817.7" cy="924.05" r="4.3"/><circle cx="847.65" cy="61.3" r="4.3"/><circle cx="847.65" cy="91.05" r="4.3"/><circle cx="847.65" cy="120.8" r="4.3"/><circle cx="847.65" cy="150.55" r="4.3"/><circle cx="847.65" cy="180.3" r="4.3"/><circle cx="847.65" cy="210.05" r="4.3"/><circle cx="847.65" cy="239.8" r="4.3"/><circle cx="847.65" cy="269.55" r="4.3"/><circle cx="847.65" cy="299.3" r="4.3"/><circle cx="847.65" cy="329.05" r="4.3"/><circle cx="847.65" cy="358.8" r="4.3"/><circle cx="847.65" cy="388.55" r="4.3"/><circle cx="847.65" cy="418.3" r="4.3"/><circle cx="847.65" cy="448.05" r="4.3"/><circle cx="847.65" cy="477.8" r="4.3"/><circle cx="847.65" cy="507.55" r="4.3"/><circle cx="847.65" cy="537.3" r="4.3"/><circle cx="847.65" cy="567.05" r="4.3"/><circle cx="847.65" cy="596.8" r="4.3"/><circle cx="847.65" cy="626.55" r="4.3"/><circle cx="847.65" cy="656.3" r="4.3"/><circle cx="847.65" cy="686.05" r="4.3"/><circle cx="847.65" cy="715.8" r="4.3"/><circle cx="847.65" cy="745.55" r="4.3"/><circle cx="847.65" cy="775.3" r="4.3"/><circle cx="847.65" cy="805.05" r="4.3"/><circle cx="847.65" cy="834.8" r="4.3"/><circle cx="847.65" cy="864.55" r="4.3"/><circle cx="847.65" cy="894.3" r="4.3"/><circle cx="847.65" cy="924.05" r="4.3"/><circle cx="877.6" cy="61.3" r="4.3"/><circle cx="877.6" cy="91.05" r="4.3"/><circle cx="877.6" cy="120.8" r="4.3"/><circle cx="877.6" cy="150.55" r="4.3"/><circle cx="877.6" cy="180.3" r="4.3"/><circle cx="877.6" cy="210.05" r="4.3"/><circle cx="877.6" cy="239.8" r="4.3"/><circle cx="877.6" cy="269.55" r="4.3"/><circle cx="877.6" cy="299.3" r="4.3"/><circle cx="877.6" cy="329.05" r="4.3"/><circle cx="877.6" cy="358.8" r="4.3"/><circle cx="877.6" cy="388.55" r="4.3"/><circle cx="877.6" cy="418.3" r="4.3"/><circle cx="877.6" cy="448.05" r="4.3"/><circle cx="877.6" cy="477.8" r="4.3"/><circle cx="877.6" cy="507.55" r="4.3"/><circle cx="877.6" cy="537.3" r="4.3"/><circle cx="877.6" cy="567.05" r="4.3"/><circle cx="877.6" cy="596.8" r="4.3"/><circle cx="877.6" cy="626.55" r="4.3"/><circle cx="877.6" cy="656.3" r="4.3"/><circle cx="877.6" cy="686.05" r="4.3"/><circle cx="877.6" cy="715.8" r="4.3"/><circle cx="877.6" cy="745.55" r="4.3"/><circle cx="877.6" cy="775.3" r="4.3"/><circle cx="877.6" cy="805.05" r="4.3"/><circle cx="877.6" cy="834.8" r="4.3"/><circle cx="877.6" cy="864.55" r="4.3"/><circle cx="877.6" cy="894.3" r="4.3"/><circle cx="877.6" cy="924.05" r="4.3"/><circle cx="907.55" cy="61.3" r="4.3"/><circle cx="907.55" cy="91.05" r="4.3"/><circle cx="907.55" cy="120.8" r="4.3"/><circle cx="907.55" cy="150.55" r="4.3"/><circle cx="907.55" cy="180.3" r="4.3"/><circle cx="907.55" cy="210.05" r="4.3"/><circle cx="907.55" cy="239.8" r="4.3"/><circle cx="907.55" cy="269.55" r="4.3"/><circle cx="907.55" cy="299.3" r="4.3"/><circle cx="907.55" cy="329.05" r="4.3"/><circle cx="907.55" cy="358.8" r="4.3"/><circle cx="907.55" cy="388.55" r="4.3"/><circle cx="907.55" cy="418.3" r="4.3"/><circle cx="907.55" cy="448.05" r="4.3"/><circle cx="907.55" cy="477.8" r="4.3"/><circle cx="907.55" cy="507.55" r="4.3"/><circle cx="907.55" cy="537.3" r="4.3"/><circle cx="907.55" cy="567.05" r="4.3"/><circle cx="907.55" cy="596.8" r="4.3"/><circle cx="907.55" cy="626.55" r="4.3"/><circle cx="907.55" cy="656.3" r="4.3"/><circle cx="907.55" cy="686.05" r="4.3"/><circle cx="907.55" cy="715.8" r="4.3"/><circle cx="907.55" cy="745.55" r="4.3"/><circle cx="907.55" cy="775.3" r="4.3"/><circle cx="907.55" cy="805.05" r="4.3"/><circle cx="907.55" cy="834.8" r="4.3"/><circle cx="907.55" cy="864.55" r="4.3"/><circle cx="907.55" cy="894.3" r="4.3"/><circle cx="907.55" cy="924.05" r="4.3"/><circle cx="937.5" cy="61.3" r="4.3"/><circle cx="937.5" cy="91.05" r="4.3"/><circle cx="937.5" cy="120.8" r="4.3"/><circle cx="937.5" cy="150.55" r="4.3"/><circle cx="937.5" cy="180.3" r="4.3"/><circle cx="937.5" cy="210.05" r="4.3"/><circle cx="937.5" cy="239.8" r="4.3"/><circle cx="937.5" cy="269.55" r="4.3"/><circle cx="937.5" cy="299.3" r="4.3"/><circle cx="937.5" cy="329.05" r="4.3"/><circle cx="937.5" cy="358.8" r="4.3"/><circle cx="937.5" cy="388.55" r="4.3"/><circle cx="937.5" cy="418.3" r="4.3"/><circle cx="937.5" cy="448.05" r="4.3"/><circle cx="937.5" cy="477.8" r="4.3"/><circle cx="937.5" cy="507.55" r="4.3"/><circle cx="937.5" cy="537.3" r="4.3"/><circle cx="937.5" cy="567.05" r="4.3"/><circle cx="937.5" cy="596.8" r="4.3"/><circle cx="937.5" cy="626.55" r="4.3"/><circle cx="937.5" cy="656.3" r="4.3"/><circle cx="937.5" cy="686.05" r="4.3"/><circle cx="937.5" cy="715.8" r="4.3"/><circle cx="937.5" cy="745.55" r="4.3"/><circle cx="937.5" cy="775.3" r="4.3"/><circle cx="937.5" cy="805.05" r="4.3"/><circle cx="937.5" cy="834.8" r="4.3"/><circle cx="937.5" cy="864.55" r="4.3"/><circle cx="937.5" cy="894.3" r="4.3"/><circle cx="937.5" cy="924.05" r="4.3"/><circle cx="967.45" cy="61.3" r="4.3"/><circle cx="967.45" cy="91.05" r="4.3"/><circle cx="967.45" cy="120.8" r="4.3"/><circle cx="967.45" cy="150.55" r="4.3"/><circle cx="967.45" cy="180.3" r="4.3"/><circle cx="967.45" cy="210.05" r="4.3"/><circle cx="967.45" cy="239.8" r="4.3"/><circle cx="967.45" cy="269.55" r="4.3"/><circle cx="967.45" cy="299.3" r="4.3"/><circle cx="967.45" cy="329.05" r="4.3"/><circle cx="967.45" cy="358.8" r="4.3"/><circle cx="967.45" cy="388.55" r="4.3"/><circle cx="967.45" cy="418.3" r="4.3"/><circle cx="967.45" cy="448.05" r="4.3"/><circle cx="967.45" cy="477.8" r="4.3"/><circle cx="967.45" cy="507.55" r="4.3"/><circle cx="967.45" cy="537.3" r="4.3"/><circle cx="967.45" cy="567.05" r="4.3"/><circle cx="967.45" cy="596.8" r="4.3"/><circle cx="967.45" cy="626.55" r="4.3"/><circle cx="967.45" cy="656.3" r="4.3"/><circle cx="967.45" cy="686.05" r="4.3"/><circle cx="967.45" cy="715.8" r="4.3"/><circle cx="967.45" cy="745.55" r="4.3"/><circle cx="967.45" cy="775.3" r="4.3"/><circle cx="967.45" cy="805.05" r="4.3"/><circle cx="967.45" cy="834.8" r="4.3"/><circle cx="967.45" cy="864.55" r="4.3"/><circle cx="967.45" cy="894.3" r="4.3"/><circle cx="967.45" cy="924.05" r="4.3"/><circle cx="997.4" cy="61.3" r="4.3"/><circle cx="997.4" cy="91.05" r="4.3"/><circle cx="997.4" cy="120.8" r="4.3"/><circle cx="997.4" cy="150.55" r="4.3"/><circle cx="997.4" cy="180.3" r="4.3"/><circle cx="997.4" cy="210.05" r="4.3"/><circle cx="997.4" cy="239.8" r="4.3"/><circle cx="997.4" cy="269.55" r="4.3"/><circle cx="997.4" cy="299.3" r="4.3"/><circle cx="997.4" cy="329.05" r="4.3"/><circle cx="997.4" cy="358.8" r="4.3"/><circle cx="997.4" cy="388.55" r="4.3"/><circle cx="997.4" cy="418.3" r="4.3"/><circle cx="997.4" cy="448.05" r="4.3"/><circle cx="997.4" cy="477.8" r="4.3"/><circle cx="997.4" cy="507.55" r="4.3"/><circle cx="997.4" cy="537.3" r="4.3"/><circle cx="997.4" cy="567.05" r="4.3"/><circle cx="997.4" cy="596.8" r="4.3"/><circle cx="997.4" cy="626.55" r="4.3"/><circle cx="997.4" cy="656.3" r="4.3"/><circle cx="997.4" cy="686.05" r="4.3"/><circle cx="997.4" cy="715.8" r="4.3"/><circle cx="997.4" cy="745.55" r="4.3"/><circle cx="997.4" cy="775.3" r="4.3"/><circle cx="997.4" cy="805.05" r="4.3"/><circle cx="997.4" cy="834.8" r="4.3"/><circle cx="997.4" cy="864.55" r="4.3"/><circle cx="997.4" cy="894.3" r="4.3"/><circle cx="997.4" cy="924.05" r="4.3"/><circle cx="1027.35" cy="61.3" r="4.3"/><circle cx="1027.35" cy="91.05" r="4.3"/><circle cx="1027.35" cy="120.8" r="4.3"/><circle cx="1027.35" cy="150.55" r="4.3"/><circle cx="1027.35" cy="180.3" r="4.3"/><circle cx="1027.35" cy="210.05" r="4.3"/><circle cx="1027.35" cy="239.8" r="4.3"/><circle cx="1027.35" cy="269.55" r="4.3"/><circle cx="1027.35" cy="299.3" r="4.3"/><circle cx="1027.35" cy="329.05" r="4.3"/><circle cx="1027.35" cy="358.8" r="4.3"/><circle cx="1027.35" cy="388.55" r="4.3"/><circle cx="1027.35" cy="418.3" r="4.3"/><circle cx="1027.35" cy="448.05" r="4.3"/><circle cx="1027.35" cy="477.8" r="4.3"/><circle cx="1027.35" cy="507.55" r="4.3"/><circle cx="1027.35" cy="537.3" r="4.3"/><circle cx="1027.35" cy="567.05" r="4.3"/><circle cx="1027.35" cy="596.8" r="4.3"/><circle cx="1027.35" cy="626.55" r="4.3"/><circle cx="1027.35" cy="656.3" r="4.3"/><circle cx="1027.35" cy="686.05" r="4.3"/><circle cx="1027.35" cy="715.8" r="4.3"/><circle cx="1027.35" cy="745.55" r="4.3"/><circle cx="1027.35" cy="775.3" r="4.3"/><circle cx="1027.35" cy="805.05" r="4.3"/><circle cx="1027.35" cy="834.8" r="4.3"/><circle cx="1027.35" cy="864.55" r="4.3"/><circle cx="1027.35" cy="894.3" r="4.3"/><circle cx="1027.35" cy="924.05" r="4.3"/><circle cx="1057.3" cy="61.3" r="4.3"/><circle cx="1057.3" cy="91.05" r="4.3"/><circle cx="1057.3" cy="120.8" r="4.3"/><circle cx="1057.3" cy="150.55" r="4.3"/><circle cx="1057.3" cy="180.3" r="4.3"/><circle cx="1057.3" cy="210.05" r="4.3"/><circle cx="1057.3" cy="239.8" r="4.3"/><circle cx="1057.3" cy="269.55" r="4.3"/><circle cx="1057.3" cy="299.3" r="4.3"/><circle cx="1057.3" cy="329.05" r="4.3"/><circle cx="1057.3" cy="358.8" r="4.3"/><circle cx="1057.3" cy="388.55" r="4.3"/><circle cx="1057.3" cy="418.3" r="4.3"/><circle cx="1057.3" cy="448.05" r="4.3"/><circle cx="1057.3" cy="477.8" r="4.3"/><circle cx="1057.3" cy="507.55" r="4.3"/><circle cx="1057.3" cy="537.3" r="4.3"/><circle cx="1057.3" cy="567.05" r="4.3"/><circle cx="1057.3" cy="596.8" r="4.3"/><circle cx="1057.3" cy="626.55" r="4.3"/><circle cx="1057.3" cy="656.3" r="4.3"/><circle cx="1057.3" cy="686.05" r="4.3"/><circle cx="1057.3" cy="715.8" r="4.3"/><circle cx="1057.3" cy="745.55" r="4.3"/><circle cx="1057.3" cy="775.3" r="4.3"/><circle cx="1057.3" cy="805.05" r="4.3"/><circle cx="1057.3" cy="834.8" r="4.3"/><circle cx="1057.3" cy="864.55" r="4.3"/><circle cx="1057.3" cy="894.3" r="4.3"/><circle cx="1057.3" cy="924.05" r="4.3"/><circle cx="1087.25" cy="61.3" r="4.3"/><circle cx="1087.25" cy="91.05" r="4.3"/><circle cx="1087.25" cy="120.8" r="4.3"/><circle cx="1087.25" cy="150.55" r="4.3"/><circle cx="1087.25" cy="180.3" r="4.3"/><circle cx="1087.25" cy="210.05" r="4.3"/><circle cx="1087.25" cy="239.8" r="4.3"/><circle cx="1087.25" cy="269.55" r="4.3"/><circle cx="1087.25" cy="299.3" r="4.3"/><circle cx="1087.25" cy="329.05" r="4.3"/><circle cx="1087.25" cy="358.8" r="4.3"/><circle cx="1087.25" cy="388.55" r="4.3"/><circle cx="1087.25" cy="418.3" r="4.3"/><circle cx="1087.25" cy="448.05" r="4.3"/><circle cx="1087.25" cy="477.8" r="4.3"/><circle cx="1087.25" cy="507.55" r="4.3"/><circle cx="1087.25" cy="537.3" r="4.3"/><circle cx="1087.25" cy="567.05" r="4.3"/><circle cx="1087.25" cy="596.8" r="4.3"/><circle cx="1087.25" cy="626.55" r="4.3"/><circle cx="1087.25" cy="656.3" r="4.3"/><circle cx="1087.25" cy="686.05" r="4.3"/><circle cx="1087.25" cy="715.8" r="4.3"/><circle cx="1087.25" cy="745.55" r="4.3"/><circle cx="1087.25" cy="775.3" r="4.3"/><circle cx="1087.25" cy="805.05" r="4.3"/><circle cx="1087.25" cy="834.8" r="4.3"/><circle cx="1087.25" cy="864.55" r="4.3"/><circle cx="1087.25" cy="894.3" r="4.3"/><circle cx="1087.25" cy="924.05" r="4.3"/><circle cx="1117.2" cy="61.3" r="4.3"/><circle cx="1117.2" cy="91.05" r="4.3"/><circle cx="1117.2" cy="120.8" r="4.3"/><circle cx="1117.2" cy="150.55" r="4.3"/><circle cx="1117.2" cy="180.3" r="4.3"/><circle cx="1117.2" cy="210.05" r="4.3"/><circle cx="1117.2" cy="239.8" r="4.3"/><circle cx="1117.2" cy="269.55" r="4.3"/><circle cx="1117.2" cy="299.3" r="4.3"/><circle cx="1117.2" cy="329.05" r="4.3"/><circle cx="1117.2" cy="358.8" r="4.3"/><circle cx="1117.2" cy="388.55" r="4.3"/><circle cx="1117.2" cy="418.3" r="4.3"/><circle cx="1117.2" cy="448.05" r="4.3"/><circle cx="1117.2" cy="477.8" r="4.3"/><circle cx="1117.2" cy="507.55" r="4.3"/><circle cx="1117.2" cy="537.3" r="4.3"/><circle cx="1117.2" cy="567.05" r="4.3"/><circle cx="1117.2" cy="596.8" r="4.3"/><circle cx="1117.2" cy="626.55" r="4.3"/><circle cx="1117.2" cy="656.3" r="4.3"/><circle cx="1117.2" cy="686.05" r="4.3"/><circle cx="1117.2" cy="715.8" r="4.3"/><circle cx="1117.2" cy="745.55" r="4.3"/><circle cx="1117.2" cy="775.3" r="4.3"/><circle cx="1117.2" cy="805.05" r="4.3"/><circle cx="1117.2" cy="834.8" r="4.3"/><circle cx="1117.2" cy="864.55" r="4.3"/><circle cx="1117.2" cy="894.3" r="4.3"/><circle cx="1117.2" cy="924.05" r="4.3"/><circle cx="1147.15" cy="61.3" r="4.3"/><circle cx="1147.15" cy="91.05" r="4.3"/><circle cx="1147.15" cy="120.8" r="4.3"/><circle cx="1147.15" cy="150.55" r="4.3"/><circle cx="1147.15" cy="180.3" r="4.3"/><circle cx="1147.15" cy="210.05" r="4.3"/><circle cx="1147.15" cy="239.8" r="4.3"/><circle cx="1147.15" cy="269.55" r="4.3"/><circle cx="1147.15" cy="299.3" r="4.3"/><circle cx="1147.15" cy="329.05" r="4.3"/><circle cx="1147.15" cy="358.8" r="4.3"/><circle cx="1147.15" cy="388.55" r="4.3"/><circle cx="1147.15" cy="418.3" r="4.3"/><circle cx="1147.15" cy="448.05" r="4.3"/><circle cx="1147.15" cy="477.8" r="4.3"/><circle cx="1147.15" cy="507.55" r="4.3"/><circle cx="1147.15" cy="537.3" r="4.3"/><circle cx="1147.15" cy="567.05" r="4.3"/><circle cx="1147.15" cy="596.8" r="4.3"/><circle cx="1147.15" cy="626.55" r="4.3"/><circle cx="1147.15" cy="656.3" r="4.3"/><circle cx="1147.15" cy="686.05" r="4.3"/><circle cx="1147.15" cy="715.8" r="4.3"/><circle cx="1147.15" cy="745.55" r="4.3"/><circle cx="1147.15" cy="775.3" r="4.3"/><circle cx="1147.15" cy="805.05" r="4.3"/><circle cx="1147.15" cy="834.8" r="4.3"/><circle cx="1147.15" cy="864.55" r="4.3"/><circle cx="1147.15" cy="894.3" r="4.3"/><circle cx="1147.15" cy="924.05" r="4.3"/><circle cx="1177.1" cy="61.3" r="4.3"/><circle cx="1177.1" cy="91.05" r="4.3"/><circle cx="1177.1" cy="120.8" r="4.3"/><circle cx="1177.1" cy="150.55" r="4.3"/><circle cx="1177.1" cy="180.3" r="4.3"/><circle cx="1177.1" cy="210.05" r="4.3"/><circle cx="1177.1" cy="239.8" r="4.3"/><circle cx="1177.1" cy="269.55" r="4.3"/><circle cx="1177.1" cy="299.3" r="4.3"/><circle cx="1177.1" cy="329.05" r="4.3"/><circle cx="1177.1" cy="358.8" r="4.3"/><circle cx="1177.1" cy="388.55" r="4.3"/><circle cx="1177.1" cy="418.3" r="4.3"/><circle cx="1177.1" cy="448.05" r="4.3"/><circle cx="1177.1" cy="477.8" r="4.3"/><circle cx="1177.1" cy="507.55" r="4.3"/><circle cx="1177.1" cy="537.3" r="4.3"/><circle cx="1177.1" cy="567.05" r="4.3"/><circle cx="1177.1" cy="596.8" r="4.3"/><circle cx="1177.1" cy="626.55" r="4.3"/><circle cx="1177.1" cy="656.3" r="4.3"/><circle cx="1177.1" cy="686.05" r="4.3"/><circle cx="1177.1" cy="715.8" r="4.3"/><circle cx="1177.1" cy="745.55" r="4.3"/><circle cx="1177.1" cy="775.3" r="4.3"/><circle cx="1177.1" cy="805.05" r="4.3"/><circle cx="1177.1" cy="834.8" r="4.3"/><circle cx="1177.1" cy="864.55" r="4.3"/><circle cx="1177.1" cy="894.3" r="4.3"/><circle cx="1177.1" cy="924.05" r="4.3"/></g>
<g fill="#000"><rect x="23.9" y="203.5" width="8.2" height="11.5"/><rect x="47.2" y="203.5" width="16.5" height="11.5"/><rect x="80.4" y="203.5" width="16.5" height="11.5"/><rect x="113.6" y="203.5" width="16.5" height="11.5"/><rect x="146.8" y="203.5" width="16.5" height="11.5"/><rect x="180" y="203.5" width="16.5" height="11.5"/><rect x="213.2" y="203.5" width="16.5" height="11.5"/><rect x="246.4" y="203.5" width="16.5" height="11.5"/><rect x="279.6" y="203.5" width="16.5" height="11.5"/><rect x="312.8" y="203.5" width="16.5" height="11.5"/><rect x="346" y="203.5" width="16.5" height="11.5"/><rect x="379.2" y="203.5" width="16.5" height="11.5"/><rect x="412.4" y="203.5" width="16.5" height="11.5"/><rect x="445.6" y="203.5" width="16.5" height="11.5"/><rect x="478.8" y="203.5" width="16.5" height="11.5"/><rect x="512" y="203.5" width="16.5" height="11.5"/><rect x="545.2" y="203.5" width="16.5" height="11.5"/><rect x="578.4" y="203.5" width="16.5" height="11.5"/><rect x="611.6" y="203.5" width="16.5" height="11.5"/><rect x="644.8" y="203.5" width="16.5" height="11.5"/><rect x="678" y="203.5" width="16.5" height="11.5"/><rect x="711.2" y="203.5" width="16.5" height="11.5"/><rect x="744.4" y="203.5" width="16.5" height="11.5"/><rect x="777.6" y="203.5" width="16.5" height="11.5"/><rect x="810.8" y="203.5" width="16.5" height="11.5"/><rect x="844" y="203.5" width="16.5" height="11.5"/><rect x="877.2" y="203.5" width="16.5" height="11.5"/><rect x="910.4" y="203.5" width="16.5" height="11.5"/><rect x="943.6" y="203.5" width="16.5" height="11.5"/><rect x="976.8" y="203.5" width="16.5" height="11.5"/><rect x="1010" y="203.5" width="16.5" height="11.5"/><rect x="1043.2" y="203.5" width="16.5" height="11.5"/><rect x="1076.4" y="203.5" width="16.5" height="11.5"/><rect x="1109.6" y="203.5" width="16.5" height="11.5"/><rect x="1142.8" y="203.5" width="16.5" height="11.5"/><rect x="1176" y="203.5" width="7" height="11.5"/></g>
<path d="M49.8 53.2 L104.3 53.2 L104.3 46.7 L98.9 46.7 L98.9 39.3 L159.1 39.3 L159.1 46.7 L155.7 46.7 L155.7 54.6 L208 54.6 L208 101.1 L49.8 101.1Z" fill="#fff" stroke="#000" stroke-width="3.8"/>
<circle cx="72" cy="59.8" r="4.3" fill="#fff" stroke="#000" stroke-width="2.5"/>
<circle cx="131.1" cy="59.8" r="4.3" fill="#fff" stroke="#000" stroke-width="2.5"/>
<circle cx="188.9" cy="59.8" r="4.3" fill="#fff" stroke="#000" stroke-width="2.5"/>
<text x="65.25" y="90.7" font-size="18.6" textLength="101.42" lengthAdjust="spacingAndGlyphs">50K Lin Poti</text>
<path d="M380.3 53.2 L434.8 53.2 L434.8 46.7 L429.4 46.7 L429.4 39.3 L489.6 39.3 L489.6 46.7 L486.2 46.7 L486.2 54.6 L538.5 54.6 L538.5 101.1 L380.3 101.1Z" fill="#fff" stroke="#000" stroke-width="3.8"/>
<circle cx="403" cy="59.8" r="4.3" fill="#fff" stroke="#000" stroke-width="2.5"/>
<circle cx="462" cy="59.8" r="4.3" fill="#fff" stroke="#000" stroke-width="2.5"/>
<circle cx="519.6" cy="59.8" r="4.3" fill="#fff" stroke="#000" stroke-width="2.5"/>
<text x="395.07" y="90.7" font-size="18.6" textLength="107.49" lengthAdjust="spacingAndGlyphs">10K Log Poti</text>
<path d="M708.6 53.2 L763.1 53.2 L763.1 46.7 L757.7 46.7 L757.7 39.3 L817.9 39.3 L817.9 46.7 L814.5 46.7 L814.5 54.6 L866.8 54.6 L866.8 101.1 L708.6 101.1Z" fill="#fff" stroke="#000" stroke-width="3.8"/>
<circle cx="730.7" cy="59.8" r="4.3" fill="#fff" stroke="#000" stroke-width="2.5"/>
<circle cx="789.7" cy="59.8" r="4.3" fill="#fff" stroke="#000" stroke-width="2.5"/>
<circle cx="847.2" cy="59.8" r="4.3" fill="#fff" stroke="#000" stroke-width="2.5"/>
<text x="720.75" y="90.7" font-size="18.6" textLength="111.72" lengthAdjust="spacingAndGlyphs">500K Lin Poti</text>
<path d="M1033.8 57 L1088.3 57 L1088.3 50.5 L1082.9 50.5 L1082.9 43.1 L1143.1 43.1 L1143.1 50.5 L1139.7 50.5 L1139.7 58.4 L1192 58.4 L1192 104.9 L1033.8 104.9Z" fill="#fff" stroke="#000" stroke-width="3.8"/>
<circle cx="1056.5" cy="63.3" r="4.3" fill="#fff" stroke="#000" stroke-width="2.5"/>
<circle cx="1115.6" cy="63.3" r="4.3" fill="#fff" stroke="#000" stroke-width="2.5"/>
<circle cx="1173" cy="63.3" r="4.3" fill="#fff" stroke="#000" stroke-width="2.5"/>
<text x="1059.26" y="90.7" font-size="18.6" textLength="112.21" lengthAdjust="spacingAndGlyphs">100K Lin Poti</text>
<text class="b" x="85.77" y="131" font-size="31.1" textLength="76.33" lengthAdjust="spacingAndGlyphs">TUNE</text>
<text class="b" x="422.28" y="133" font-size="31.1" textLength="76.91" lengthAdjust="spacingAndGlyphs">TONE</text>
<text class="b" x="735.97" y="134.2" font-size="30.38" textLength="93.63" lengthAdjust="spacingAndGlyphs">DECAY</text>
<text class="b" x="1076.42" y="134.2" font-size="30.81" textLength="82.66" lengthAdjust="spacingAndGlyphs">LEVEL</text>
<line x1="68.95" y1="150.55" x2="428.35" y2="269.55" stroke="#000" stroke-width="4"/>
<circle cx="68.95" cy="150.55" r="4.9"/>
<circle cx="428.35" cy="269.55" r="4.9"/>
<line x1="128.85" y1="150.55" x2="488.25" y2="269.55" stroke="#000" stroke-width="4"/>
<circle cx="128.85" cy="150.55" r="4.9"/>
<circle cx="488.25" cy="269.55" r="4.9"/>
<line x1="398.4" y1="150.55" x2="548.15" y2="269.55" stroke="#000" stroke-width="4"/>
<circle cx="398.4" cy="150.55" r="4.9"/>
<circle cx="548.15" cy="269.55" r="4.9"/>
<line x1="458.3" y1="150.55" x2="578.1" y2="269.55" stroke="#000" stroke-width="4"/>
<circle cx="458.3" cy="150.55" r="4.9"/>
<circle cx="578.1" cy="269.55" r="4.9"/>
<line x1="787.75" y1="150.55" x2="817.7" y2="269.55" stroke="#000" stroke-width="4"/>
<circle cx="787.75" cy="150.55" r="4.9"/>
<circle cx="817.7" cy="269.55" r="4.9"/>
<line x1="847.65" y1="150.55" x2="847.65" y2="269.55" stroke="#000" stroke-width="4"/>
<circle cx="847.65" cy="150.55" r="4.9"/>
<circle cx="847.65" cy="269.55" r="4.9"/>
<line x1="1057.3" y1="150.55" x2="1057.3" y2="269.55" stroke="#000" stroke-width="4"/>
<circle cx="1057.3" cy="150.55" r="4.9"/>
<circle cx="1057.3" cy="269.55" r="4.9"/>
<line x1="1117.2" y1="150.55" x2="1087.25" y2="269.55" stroke="#000" stroke-width="4"/>
<circle cx="1117.2" cy="150.55" r="4.9"/>
<circle cx="1087.25" cy="269.55" r="4.9"/>
<line x1="1177.1" y1="150.55" x2="1117.2" y2="269.55" stroke="#000" stroke-width="4"/>
<circle cx="1177.1" cy="150.55" r="4.9"/>
<circle cx="1117.2" cy="269.55" r="4.9"/>
<circle cx="114.7" cy="280.5" r="24" fill="#fff" stroke="#000" stroke-width="7.8"/>
<path d="M128.9 240.3 C120 242 114.5 246 114.5 254 V268.6 M114.5 292 V312 C114.5 320 106 324 98.7 329.7" fill="none" stroke="#000" stroke-width="3.7"/>
<path d="M108.7 280.6 H123.7 M123.7 267.2 V293.8" fill="none" stroke="#000" stroke-width="3.6"/>
<circle cx="128.9" cy="240.3" r="4.9"/>
<circle cx="98.7" cy="329.7" r="4.9"/>
<text class="b" x="153.78" y="288.9" font-size="29.07" textLength="105.29" lengthAdjust="spacingAndGlyphs">TRIGGER</text>
<line x1="126.8" y1="329.05" x2="666" y2="329.05" stroke="#000" stroke-width="4"/>
<circle cx="126.8" cy="329.05" r="4.9"/>
<circle cx="666" cy="329.05" r="4.9"/>
<circle cx="99" cy="358.4" r="8.3" fill="#fff" stroke="#000" stroke-width="3.9"/>
<circle cx="128.7" cy="358.4" r="8.3" fill="#fff" stroke="#000" stroke-width="3.9"/>
<text x="39.63" y="391.7" font-size="19.62" textLength="74.12" lengthAdjust="spacingAndGlyphs">TRIGGER</text>
<text x="129.97" y="389" font-size="19.62" textLength="69.42" lengthAdjust="spacingAndGlyphs">ACCENT</text>
<rect x="415.95" y="346.05" width="87.3" height="24.7" fill="#fff" stroke="#000" stroke-width="3.7"/>
<circle cx="429.9" cy="358.2" r="8.3" fill="#fff" stroke="#000" stroke-width="3.9"/>
<circle cx="487.3" cy="358.2" r="8.3" fill="#fff" stroke="#000" stroke-width="3.9"/>
<rect x="534.15" y="346.05" width="62" height="24.7" fill="#fff" stroke="#000" stroke-width="3.7"/>
<circle cx="549.6" cy="358.2" r="8.3" fill="#fff" stroke="#000" stroke-width="3.9"/>
<circle cx="580.3" cy="358.2" r="8.3" fill="#fff" stroke="#000" stroke-width="3.9"/>
<rect x="802.25" y="346.35" width="61.1" height="24.6" fill="#fff" stroke="#000" stroke-width="3.7"/>
<circle cx="817" cy="358.2" r="8.3" fill="#fff" stroke="#000" stroke-width="3.9"/>
<circle cx="847.5" cy="358.2" r="8.3" fill="#fff" stroke="#000" stroke-width="3.9"/>
<circle cx="878.5" cy="358.4" r="8.3" fill="#fff" stroke="#000" stroke-width="3.9"/>
<rect x="1040.25" y="345.85" width="94" height="24.6" fill="#fff" stroke="#000" stroke-width="3.7"/>
<circle cx="1055.5" cy="358.2" r="8.3" fill="#fff" stroke="#000" stroke-width="3.9"/>
<circle cx="1086.1" cy="358.2" r="8.3" fill="#fff" stroke="#000" stroke-width="3.9"/>
<circle cx="1117.3" cy="358.2" r="8.3" fill="#fff" stroke="#000" stroke-width="3.9"/>
<text x="438.92" y="394.3" font-size="18.9" textLength="46.11" lengthAdjust="spacingAndGlyphs">TUNE</text>
<text x="536.32" y="394.3" font-size="18.9" textLength="46.7" lengthAdjust="spacingAndGlyphs">TONE</text>
<text x="800.18" y="394.7" font-size="18.9" textLength="59.7" lengthAdjust="spacingAndGlyphs">DECAY</text>
<text x="869.73" y="392" font-size="18.9" textLength="43.74" lengthAdjust="spacingAndGlyphs">+15v</text>
<text x="1058.64" y="394.7" font-size="18.9" textLength="51.71" lengthAdjust="spacingAndGlyphs">LEVEL</text>
<line x1="638" y1="358.8" x2="697.9" y2="358.8" stroke="#000" stroke-width="4"/>
<circle cx="638" cy="358.8" r="4.9"/>
<circle cx="697.9" cy="358.8" r="11" fill="#fff" stroke="#000" stroke-width="4.4"/>
<circle cx="697.9" cy="358.8" r="4.4"/>
<text x="640.56" y="354.3" font-size="18.6" textLength="41.11" lengthAdjust="spacingAndGlyphs">470k</text>
<line x1="308.1" y1="417.3" x2="430.4" y2="417.3" stroke="#000" stroke-width="4"/>
<circle cx="308.1" cy="417.3" r="4.9"/>
<circle cx="430.4" cy="417.3" r="4.9"/>
<rect x="472.4" y="405.3" width="182.8" height="24.5" fill="#fff" stroke="#000" stroke-width="4"/>
<circle cx="487.4" cy="417.3" r="8.3" fill="#fff" stroke="#000" stroke-width="3.9"/>
<circle cx="638" cy="417.3" r="8.3" fill="#fff" stroke="#000" stroke-width="3.9"/>
<text x="504" y="424.5" font-size="15.55" textLength="112.58" lengthAdjust="spacingAndGlyphs">TUNE ENVELOPE</text>
<line x1="698.3" y1="417.3" x2="851.7" y2="417.3" stroke="#000" stroke-width="4"/>
<circle cx="698.3" cy="417.3" r="4.9"/>
<circle cx="851.7" cy="417.3" r="4.9"/>
<rect x="731.7" y="406.15" width="82.8" height="22.3" rx="11.15" fill="#fff" stroke="#000" stroke-width="4"/>
<text x="757.87" y="423.7" font-size="18.6" textLength="30" lengthAdjust="spacingAndGlyphs">47k</text>
<line x1="937.1" y1="417.3" x2="1177" y2="417.3" stroke="#000" stroke-width="4"/>
<circle cx="937.1" cy="417.3" r="4.9"/>
<circle cx="1177" cy="417.3" r="4.9"/>
<rect x="1003.4" y="406.15" width="83.2" height="22.3" rx="11.15" fill="#fff" stroke="#000" stroke-width="4"/>
<text x="1029.58" y="423.7" font-size="18.6" textLength="30" lengthAdjust="spacingAndGlyphs">82k</text>
<line x1="248.5" y1="446.6" x2="308.5" y2="446.6" stroke="#000" stroke-width="4"/>
<circle cx="248.5" cy="446.6" r="4.9"/>
<circle cx="308.5" cy="446.6" r="11" fill="#fff" stroke="#000" stroke-width="4.4"/>
<circle cx="308.5" cy="446.6" r="4.4"/>
<text x="253.49" y="442.3" font-size="18.6" textLength="29.88" lengthAdjust="spacingAndGlyphs">10k</text>
<line x1="368.3" y1="448.05" x2="667.3" y2="448.05" stroke="#000" stroke-width="4"/>
<circle cx="368.3" cy="448.05" r="4.9"/>
<circle cx="667.3" cy="448.05" r="4.9"/>
<rect x="478.7" y="436.9" width="82" height="22.3" rx="11.15" fill="#fff" stroke="#000" stroke-width="4"/>
<text x="504.22" y="454.45" font-size="18.6" textLength="30" lengthAdjust="spacingAndGlyphs">22k</text>
<line x1="699" y1="449.5" x2="817.4" y2="449.5" stroke="#000" stroke-width="4"/>
<circle cx="699" cy="449.5" r="4.9"/>
<circle cx="817.4" cy="449.5" r="4.9"/>
<rect x="716.6" y="437.75" width="6.4" height="23.5" fill="#000"/>
<rect x="723" y="437.75" width="5" height="23.5" fill="#fff"/>
<rect x="729.95" y="439.7" width="14.3" height="19.6" fill="#fff" stroke="#000" stroke-width="3.9"/>
<path d="M733.1 449.5H741.1M737.1 445.5V453.5" stroke="#000" stroke-width="1.2"/>
<text x="748.9" y="466.5" font-size="18.6" textLength="42.04" lengthAdjust="spacingAndGlyphs">33uF</text>
<rect x="984.25" y="434.95" width="149.6" height="23.3" fill="#e2e2e2" stroke="#000" stroke-width="3.9"/>
<circle cx="1000" cy="446.8" r="8.6"/>
<circle cx="1117" cy="446.8" r="8.6"/>
<path d="M1014 449.6H1024.6M1019.3 444.3V454.9" stroke="#000" stroke-width="1.5"/>
<text x="1061.27" y="454.8" font-size="19.19" textLength="40.91" lengthAdjust="spacingAndGlyphs">GND</text>
<text class="b" x="989.75" y="489" font-size="28.05" textLength="140.53" lengthAdjust="spacingAndGlyphs">AUDIO OUT</text>
<line x1="429" y1="477" x2="787.8" y2="477" stroke="#000" stroke-width="4"/>
<circle cx="429" cy="477" r="4.9"/>
<circle cx="787.8" cy="477" r="4.9"/>
<line x1="128.85" y1="507.3" x2="160" y2="507.3" stroke="#000" stroke-width="4"/>
<circle cx="128.85" cy="507.3" r="4.9"/>
<circle cx="160" cy="507.3" r="11" fill="#fff" stroke="#000" stroke-width="4.4"/>
<circle cx="160" cy="507.3" r="4.4"/>
<text x="116.57" y="492.7" font-size="18.6" textLength="35.4" lengthAdjust="spacingAndGlyphs">4,7k</text>
<line x1="368.3" y1="506.9" x2="462.9" y2="506.9" stroke="#000" stroke-width="4"/>
<circle cx="368.3" cy="506.9" r="4.9"/>
<circle cx="462.9" cy="506.9" r="4.9"/>
<rect x="374.9" y="495.75" width="81.4" height="22.3" rx="11.15" fill="#fff" stroke="#000" stroke-width="4"/>
<text x="394.71" y="513.3" font-size="18.6" textLength="40.34" lengthAdjust="spacingAndGlyphs">100k</text>
<line x1="578.3" y1="507.3" x2="1053.4" y2="507.3" stroke="#000" stroke-width="4"/>
<circle cx="578.3" cy="507.3" r="4.9"/>
<circle cx="1053.4" cy="507.3" r="4.9"/>
<rect x="780.8" y="495.55" width="6.4" height="23.5" fill="#000"/>
<rect x="787.2" y="495.55" width="4.8" height="23.5" fill="#fff"/>
<rect x="793.95" y="497.5" width="14.4" height="19.6" fill="#fff" stroke="#000" stroke-width="3.9"/>
<path d="M797.15 507.3H805.15M801.15 503.3V511.3" stroke="#000" stroke-width="1.2"/>
<text x="810.17" y="532" font-size="18.6" textLength="58.28" lengthAdjust="spacingAndGlyphs">0.47uF</text>
<circle cx="68.95" cy="448.05" r="17.2" fill="none" stroke="#000" stroke-width="3.4"/>
<path d="M39.45 448.05H98.45M68.95 418.55V477.55" stroke="#000" stroke-width="3.4"/>
<circle cx="1146.2" cy="506.5" r="17.2" fill="none" stroke="#000" stroke-width="3.4"/>
<path d="M1116.7 506.5H1175.7M1146.2 477V536" stroke="#000" stroke-width="3.4"/>
<line x1="338.3" y1="536.5" x2="667.3" y2="536.5" stroke="#000" stroke-width="4"/>
<circle cx="338.3" cy="536.5" r="4.9"/>
<circle cx="667.3" cy="536.5" r="4.9"/>
<rect x="457.7" y="525.35" width="82" height="22.3" rx="11.15" fill="#fff" stroke="#000" stroke-width="4"/>
<text x="485.83" y="542.9" font-size="18.6" textLength="25.84" lengthAdjust="spacingAndGlyphs">1M</text>
<line x1="729.3" y1="537.3" x2="849" y2="537.3" stroke="#000" stroke-width="4"/>
<circle cx="729.3" cy="537.3" r="4.9"/>
<circle cx="849" cy="537.3" r="4.9"/>
<line x1="966.8" y1="537.8" x2="1116.5" y2="537.8" stroke="#000" stroke-width="4"/>
<circle cx="966.8" cy="537.8" r="4.9"/>
<circle cx="1116.5" cy="537.8" r="4.9"/>
<rect x="1015.8" y="526.05" width="6.7" height="23.5" fill="#000"/>
<rect x="1027.3" y="526.05" width="6.7" height="23.5" fill="#000"/>
<rect x="1022.5" y="526.05" width="4.8" height="23.5" fill="#fff"/>
<text x="961.45" y="526.5" font-size="18.6" textLength="53.71" lengthAdjust="spacingAndGlyphs">220pF</text>
<line x1="69.1" y1="566" x2="247.4" y2="566" stroke="#000" stroke-width="4"/>
<circle cx="69.1" cy="566" r="4.9"/>
<circle cx="247.4" cy="566" r="4.9"/>
<rect x="133.4" y="554.85" width="82.6" height="22.3" rx="11.15" fill="#fff" stroke="#000" stroke-width="4"/>
<text x="159.22" y="572.4" font-size="18.6" textLength="30" lengthAdjust="spacingAndGlyphs">22k</text>
<line x1="273.7" y1="567.1" x2="427.9" y2="567.1" stroke="#000" stroke-width="4"/>
<circle cx="273.7" cy="567.1" r="4.9"/>
<circle cx="427.9" cy="567.1" r="4.9"/>
<rect x="307.5" y="555.95" width="83.6" height="22.3" rx="11.15" fill="#fff" stroke="#000" stroke-width="4"/>
<text x="331.24" y="573.5" font-size="18.6" textLength="35.17" lengthAdjust="spacingAndGlyphs">2.7k</text>
<line x1="518.3" y1="567.05" x2="728.3" y2="567.05" stroke="#000" stroke-width="4"/>
<circle cx="518.3" cy="567.05" r="4.9"/>
<circle cx="728.3" cy="567.05" r="4.9"/>
<rect x="586" y="555.9" width="81" height="22.3" rx="11.15" fill="#fff" stroke="#000" stroke-width="4"/>
<text x="611.27" y="573.45" font-size="18.6" textLength="30" lengthAdjust="spacingAndGlyphs">47k</text>
<line x1="754" y1="567.05" x2="1116.5" y2="567.05" stroke="#000" stroke-width="4"/>
<circle cx="754" cy="567.05" r="4.9"/>
<circle cx="1116.5" cy="567.05" r="4.9"/>
<rect x="802.8" y="555.9" width="82.6" height="22.3" rx="11.15" fill="#fff" stroke="#000" stroke-width="4"/>
<text x="828.62" y="573.45" font-size="18.6" textLength="30" lengthAdjust="spacingAndGlyphs">22k</text>
<line x1="428.3" y1="595.6" x2="578.3" y2="595.6" stroke="#000" stroke-width="4"/>
<circle cx="428.3" cy="595.6" r="4.9"/>
<circle cx="578.3" cy="595.6" r="4.9"/>
<rect x="509.8" y="583.85" width="6.7" height="23.5" fill="#000"/>
<rect x="521.2" y="583.85" width="6.7" height="23.5" fill="#000"/>
<rect x="516.5" y="583.85" width="4.7" height="23.5" fill="#fff"/>
<text x="534.22" y="586.2" font-size="18.46" textLength="51.51" lengthAdjust="spacingAndGlyphs">100nF</text>
<line x1="667.3" y1="596.8" x2="877" y2="596.8" stroke="#000" stroke-width="4"/>
<circle cx="667.3" cy="596.8" r="4.9"/>
<circle cx="877" cy="596.8" r="4.9"/>
<line x1="937" y1="596.8" x2="1116.5" y2="596.8" stroke="#000" stroke-width="4"/>
<circle cx="937" cy="596.8" r="4.9"/>
<circle cx="1116.5" cy="596.8" r="4.9"/>
<rect x="962.5" y="585.65" width="81.5" height="22.3" rx="11.15" fill="#fff" stroke="#000" stroke-width="4"/>
<text x="982.36" y="603.2" font-size="18.6" textLength="40.34" lengthAdjust="spacingAndGlyphs">100k</text>
<g transform="translate(248.45 511.9) rotate(0)"><path d="M-25.75 0V-3.85A25.75 25.75 0 0 1 25.75 -3.85V0Z" fill="none" stroke="#000" stroke-width="3.6"/><path d="M-9.5 -22.8H9M-6.5 -22.8L-15.2 -5.4H-25.75M4 -22.8L13.6 -5.4H25.75M-0.8 -22.8V-26" fill="none" stroke="#000" stroke-width="2.0"/><path d="M12.19 -7.8L5.34 -12.51L9.63 -12.56L12.03 -16.12Z" fill="#000"/></g>
<line x1="222.7" y1="506.5" x2="216.4" y2="506.6" stroke="#000" stroke-width="2"/>
<circle cx="216.4" cy="506.6" r="4.9"/>
<line x1="274.2" y1="506.5" x2="308.2" y2="506.6" stroke="#000" stroke-width="2"/>
<circle cx="308.2" cy="506.6" r="4.9"/>
<line x1="247.65" y1="485.9" x2="247.7" y2="472.9" stroke="#000" stroke-width="2"/>
<circle cx="247.7" cy="472.9" r="3.9"/>
<text x="269.53" y="488.8" font-size="18.02" textLength="54.86" lengthAdjust="spacingAndGlyphs">BC546</text>
<line x1="339.4" y1="625.5" x2="433.1" y2="625.5" stroke="#000" stroke-width="4"/>
<circle cx="339.4" cy="625.5" r="4.9"/>
<circle cx="433.1" cy="625.5" r="4.9"/>
<rect x="375.4" y="613.95" width="7" height="23.1" fill="#000"/>
<rect x="386.7" y="613.95" width="7" height="23.1" fill="#000"/>
<rect x="382.4" y="613.95" width="4.3" height="23.1" fill="#fff"/>
<text x="397.16" y="616" font-size="18.46" textLength="53.49" lengthAdjust="spacingAndGlyphs">100nF</text>
<line x1="549.5" y1="626.1" x2="518.2" y2="626.1" stroke="#000" stroke-width="4"/>
<circle cx="549.5" cy="626.1" r="4.9"/>
<circle cx="518.2" cy="626.1" r="11" fill="#fff" stroke="#000" stroke-width="4.4"/>
<circle cx="518.2" cy="626.1" r="4.4"/>
<text x="541.08" y="616.6" font-size="18.6" textLength="43.77" lengthAdjust="spacingAndGlyphs">220R</text>
<rect x="654.2" y="624.7" width="115.9" height="91.2" fill="#fff" stroke="#000" stroke-width="3.9"/>
<path d="M654.2 654.8 A15.5 15.5 0 0 1 654.2 685.8" fill="none" stroke="#000" stroke-width="3.9"/>
<circle cx="666.2" cy="626" r="4.2" fill="#fff" stroke="#000" stroke-width="2.1"/>
<circle cx="666.2" cy="714.8" r="4.2" fill="#fff" stroke="#000" stroke-width="2.1"/>
<circle cx="696.2" cy="626" r="4.2" fill="#fff" stroke="#000" stroke-width="2.1"/>
<circle cx="696.2" cy="714.8" r="4.2" fill="#fff" stroke="#000" stroke-width="2.1"/>
<circle cx="725.9" cy="626" r="4.2" fill="#fff" stroke="#000" stroke-width="2.1"/>
<circle cx="725.9" cy="714.8" r="4.2" fill="#fff" stroke="#000" stroke-width="2.1"/>
<circle cx="755.9" cy="626" r="4.2" fill="#fff" stroke="#000" stroke-width="2.1"/>
<circle cx="755.9" cy="714.8" r="4.2" fill="#fff" stroke="#000" stroke-width="2.1"/>
<text x="690.71" y="677.1" font-size="18.6" textLength="49.16" lengthAdjust="spacingAndGlyphs">TL072</text>
<g transform="translate(941.3 660.8) rotate(0)"><path d="M-25.75 0V-3.85A25.75 25.75 0 0 1 25.75 -3.85V0Z" fill="none" stroke="#000" stroke-width="3.6"/><path d="M-9.5 -22.8H9M-6.5 -22.8L-15.2 -4.8H-25.75M4 -22.8L13.6 -4.8H25.75M-0.8 -22.8V-26" fill="none" stroke="#000" stroke-width="2.0"/><path d="M12.19 -7.8L5.34 -12.51L9.63 -12.56L12.03 -16.12Z" fill="#000"/></g>
<line x1="915.55" y1="656" x2="877" y2="656" stroke="#000" stroke-width="2"/>
<circle cx="877" cy="656" r="4.9"/>
<line x1="967.05" y1="656" x2="974" y2="656" stroke="#000" stroke-width="2"/>
<circle cx="974" cy="656" r="4.9"/>
<line x1="940.5" y1="634.8" x2="940.4" y2="622" stroke="#000" stroke-width="2"/>
<circle cx="940.4" cy="622" r="3.9"/>
<text x="917.11" y="680.1" font-size="18.31" textLength="55.49" lengthAdjust="spacingAndGlyphs">BC546</text>
<line x1="996.8" y1="626.55" x2="1026.9" y2="626.55" stroke="#000" stroke-width="4"/>
<circle cx="996.8" cy="626.55" r="4.9"/>
<circle cx="1026.9" cy="626.55" r="11" fill="#fff" stroke="#000" stroke-width="4.4"/>
<circle cx="1026.9" cy="626.55" r="4.4"/>
<text x="1041.11" y="632" font-size="18.6" textLength="19.26" lengthAdjust="spacingAndGlyphs">1k</text>
<line x1="1087.1" y1="626.55" x2="1174.5" y2="626.55" stroke="#000" stroke-width="4"/>
<circle cx="1087.1" cy="626.55" r="4.9"/>
<circle cx="1174.5" cy="626.55" r="4.9"/>
<rect x="1151.3" y="614.8" width="6.4" height="23.5" fill="#000"/>
<rect x="1145.5" y="614.8" width="5.8" height="23.5" fill="#fff"/>
<rect x="1129.85" y="616.75" width="13.7" height="19.6" fill="#fff" stroke="#000" stroke-width="3.9"/>
<path d="M1132.7 626.55H1140.7M1136.7 622.55V630.55" stroke="#000" stroke-width="1.2"/>
<text x="1130.98" y="659.9" font-size="18.6" textLength="57.25" lengthAdjust="spacingAndGlyphs">0.47uF</text>
<line x1="158" y1="655.5" x2="218.2" y2="655.5" stroke="#000" stroke-width="4"/>
<circle cx="158" cy="655.5" r="4.9"/>
<circle cx="218.2" cy="655.5" r="11" fill="#fff" stroke="#000" stroke-width="4.4"/>
<circle cx="218.2" cy="655.5" r="4.4"/>
<text x="162.16" y="651.3" font-size="18.6" textLength="30.41" lengthAdjust="spacingAndGlyphs">10k</text>
<g transform="translate(312.1 656.65) rotate(-90)"><path d="M-25.75 0V-3.85A25.75 25.75 0 0 1 25.75 -3.85V0Z" fill="none" stroke="#000" stroke-width="3.6"/><path d="M-9.5 -22.8H9M-6.5 -22.8L-15.2 -5.0H-25.75M4 -22.8L13.6 -5.0H25.75M-0.8 -22.8V-26" fill="none" stroke="#000" stroke-width="2.0"/><path d="M12.19 -7.8L5.34 -12.51L9.63 -12.56L12.03 -16.12Z" fill="#000"/></g>
<line x1="307.1" y1="682.4" x2="338.2" y2="685.9" stroke="#000" stroke-width="2"/>
<circle cx="338.2" cy="685.9" r="4.9"/>
<line x1="307.1" y1="630.9" x2="308.4" y2="625.7" stroke="#000" stroke-width="2"/>
<circle cx="308.4" cy="625.7" r="4.9"/>
<line x1="286.1" y1="657.45" x2="276.7" y2="656.8" stroke="#000" stroke-width="2"/>
<circle cx="276.7" cy="656.8" r="3.9"/>
<text x="241.42" y="630.3" font-size="18.31" textLength="55.07" lengthAdjust="spacingAndGlyphs">BC546</text>
<line x1="393.7" y1="655.9" x2="637.6" y2="655.9" stroke="#000" stroke-width="4"/>
<circle cx="393.7" cy="655.9" r="4.9"/>
<circle cx="637.6" cy="655.9" r="4.9"/>
<rect x="495.4" y="644.75" width="81.5" height="22.3" rx="11.15" fill="#fff" stroke="#000" stroke-width="4"/>
<text x="523.28" y="662.3" font-size="18.6" textLength="25.84" lengthAdjust="spacingAndGlyphs">1M</text>
<line x1="1026.9" y1="656.3" x2="1116.9" y2="656.3" stroke="#000" stroke-width="4"/>
<circle cx="1026.9" cy="656.3" r="4.9"/>
<circle cx="1116.9" cy="656.3" r="4.9"/>
<rect x="1034.5" y="645.15" width="82.2" height="22.3" rx="11.15" fill="#fff" stroke="#000" stroke-width="4"/>
<text x="1054.71" y="662.7" font-size="18.6" textLength="40.34" lengthAdjust="spacingAndGlyphs">100k</text>
<line x1="487.8" y1="685.9" x2="642" y2="685.9" stroke="#000" stroke-width="4" stroke-dasharray="4 2.5"/>
<circle cx="487.8" cy="685.9" r="4.9"/>
<circle cx="642" cy="685.9" r="4.9"/>
<rect x="525.1" y="674.75" width="78.6" height="22.3" rx="11.15" fill="#fff" stroke="#000" stroke-width="4" stroke-dasharray="5 3"/>
<text x="546.33" y="692.3" font-size="18.6" textLength="35.17" lengthAdjust="spacingAndGlyphs">6.8k</text>
<text x="604.6" y="707.1" font-size="18.6" textLength="41.94" lengthAdjust="spacingAndGlyphs">15nF</text>
<line x1="877" y1="686.1" x2="907.3" y2="686.1" stroke="#000" stroke-width="4"/>
<circle cx="877" cy="686.1" r="5"/>
<circle cx="907.3" cy="686.1" r="5"/>
<path d="M880.4 674L896.6 686L880.4 697.6Z" fill="#000"/>
<rect x="896.3" y="671.1" width="7.6" height="28.1" fill="#000"/>
<path d="M878.3 665.4L886.3 673.4M883.1 662.2L891.7 669.7" stroke="#000" stroke-width="3.6"/>
<line x1="965.4" y1="686.1" x2="1026.9" y2="686.1" stroke="#000" stroke-width="4"/>
<circle cx="965.4" cy="686.1" r="4.9"/>
<circle cx="1026.9" cy="686.1" r="4.9"/>
<rect x="1007" y="674.35" width="6.4" height="23.5" fill="#000"/>
<rect x="1001.8" y="674.35" width="5.2" height="23.5" fill="#fff"/>
<rect x="985.45" y="676.3" width="14.4" height="19.6" fill="#fff" stroke="#000" stroke-width="3.9"/>
<path d="M988.65 686.1H996.65M992.65 682.1V690.1" stroke="#000" stroke-width="1.2"/>
<text x="947.44" y="704.5" font-size="18.6" textLength="30.78" lengthAdjust="spacingAndGlyphs">1uF</text>
<line x1="38.7" y1="716" x2="99.1" y2="716" stroke="#000" stroke-width="4"/>
<circle cx="38.7" cy="716" r="4.9"/>
<circle cx="99.1" cy="716" r="4.9"/>
<rect x="55.2" y="702.05" width="7.7" height="27.9" fill="#000"/>
<path d="M62.9 716L78.4 703.85V728.15Z" fill="#000"/>
<text x="32.65" y="697.5" font-size="18.9" textLength="66.68" lengthAdjust="spacingAndGlyphs">1N4148</text>
<line x1="187.7" y1="715.8" x2="282.5" y2="715.8" stroke="#000" stroke-width="4"/>
<circle cx="187.7" cy="715.8" r="4.9"/>
<circle cx="282.5" cy="715.8" r="4.9"/>
<rect x="193.4" y="704.65" width="83.4" height="22.3" rx="11.15" fill="#fff" stroke="#000" stroke-width="4"/>
<text x="217.1" y="722.2" font-size="18.6" textLength="35.17" lengthAdjust="spacingAndGlyphs">8.2k</text>
<line x1="307.8" y1="715.7" x2="403.1" y2="715.7" stroke="#000" stroke-width="4"/>
<circle cx="307.8" cy="715.7" r="4.9"/>
<circle cx="403.1" cy="715.7" r="4.9"/>
<rect x="338.6" y="701.75" width="6.9" height="27.9" fill="#000"/>
<path d="M345.5 715.7L361.6 703.55V727.85Z" fill="#000"/>
<text x="347.97" y="703.3" font-size="18.31" textLength="65.85" lengthAdjust="spacingAndGlyphs">1N4148</text>
<g transform="translate(458.9 707.1) rotate(180)"><path d="M-25.75 0V-3.85A25.75 25.75 0 0 1 25.75 -3.85V0Z" fill="none" stroke="#000" stroke-width="3.6"/><path d="M-9.5 -22.8H9M-6.5 -22.8L-15.2 -8.2H-25.75M4 -22.8L13.6 -8.2H25.75M-0.8 -22.8V-26" fill="none" stroke="#000" stroke-width="2.0"/><path d="M12.19 -7.8L5.34 -12.51L9.63 -12.56L12.03 -16.12Z" fill="#000"/></g>
<line x1="484.65" y1="715.3" x2="427.6" y2="715.3" stroke="#000" stroke-width="2"/>
<circle cx="427.6" cy="715.3" r="4.9"/>
<line x1="433.15" y1="715.3" x2="490.8" y2="715.3" stroke="#000" stroke-width="2"/>
<circle cx="490.8" cy="715.3" r="4.9"/>
<line x1="459.7" y1="733.1" x2="459.7" y2="746" stroke="#000" stroke-width="2"/>
<circle cx="459.7" cy="746" r="3.9"/>
<text x="426.77" y="698.9" font-size="18.31" textLength="57.05" lengthAdjust="spacingAndGlyphs">BC546</text>
<line x1="516.8" y1="714.9" x2="638.3" y2="714.9" stroke="#000" stroke-width="4"/>
<circle cx="516.8" cy="714.9" r="4.9"/>
<circle cx="638.3" cy="714.9" r="4.9"/>
<rect x="554.4" y="703.15" width="6.7" height="23.5" fill="#000"/>
<rect x="566" y="703.15" width="6.7" height="23.5" fill="#000"/>
<rect x="561.1" y="703.15" width="4.9" height="23.5" fill="#fff"/>
<line x1="787.9" y1="715.8" x2="1116.9" y2="715.8" stroke="#000" stroke-width="4"/>
<circle cx="787.9" cy="715.8" r="4.9"/>
<circle cx="1116.9" cy="715.8" r="4.9"/>
<g transform="translate(158 739) rotate(180)"><path d="M-25.75 0V-3.85A25.75 25.75 0 0 1 25.75 -3.85V0Z" fill="none" stroke="#000" stroke-width="3.6"/><path d="M-9.5 -22.8H9M-6.5 -22.8L-15.2 -6.2H-25.75M4 -22.8L13.6 -6.2H25.75M-0.8 -22.8V-26" fill="none" stroke="#000" stroke-width="2.0"/><path d="M8.21 -15.2L15.06 -10.49L10.77 -10.44L8.37 -6.88Z" fill="#000"/></g>
<line x1="183.75" y1="745.2" x2="128" y2="745.3" stroke="#000" stroke-width="2"/>
<circle cx="128" cy="745.3" r="4.9"/>
<line x1="132.25" y1="745.2" x2="189.1" y2="745.3" stroke="#000" stroke-width="2"/>
<circle cx="189.1" cy="745.3" r="4.9"/>
<line x1="158.8" y1="765" x2="158.9" y2="774.3" stroke="#000" stroke-width="2"/>
<circle cx="158.9" cy="774.3" r="3.9"/>
<text x="125.48" y="731.3" font-size="18.31" textLength="56.74" lengthAdjust="spacingAndGlyphs">BC556</text>
<g transform="translate(337.8 740.8) rotate(180)"><path d="M-25.75 0V-3.85A25.75 25.75 0 0 1 25.75 -3.85V0Z" fill="none" stroke="#000" stroke-width="3.6"/><path d="M-9.5 -22.8H9M-6.5 -22.8L-15.2 -4.3H-25.75M4 -22.8L13.6 -4.3H25.75M-0.8 -22.8V-26" fill="none" stroke="#000" stroke-width="2.0"/><path d="M12.19 -7.8L5.34 -12.51L9.63 -12.56L12.03 -16.12Z" fill="#000"/></g>
<line x1="363.55" y1="745.1" x2="306.5" y2="745.3" stroke="#000" stroke-width="2"/>
<circle cx="306.5" cy="745.3" r="4.9"/>
<line x1="312.05" y1="745.1" x2="369.5" y2="745.3" stroke="#000" stroke-width="2"/>
<circle cx="369.5" cy="745.3" r="4.9"/>
<line x1="338.6" y1="766.8" x2="338.6" y2="776" stroke="#000" stroke-width="2"/>
<circle cx="338.6" cy="776" r="3.9"/>
<text x="310.79" y="799.3" font-size="18.31" textLength="56.22" lengthAdjust="spacingAndGlyphs">BC546</text>
<line x1="545" y1="745.9" x2="579.2" y2="745.9" stroke="#000" stroke-width="4"/>
<circle cx="545" cy="745.9" r="4.9"/>
<circle cx="579.2" cy="745.9" r="11" fill="#fff" stroke="#000" stroke-width="4.4"/>
<circle cx="579.2" cy="745.9" r="4.4"/>
<text x="537.68" y="738.7" font-size="18.6" textLength="29.99" lengthAdjust="spacingAndGlyphs">10k</text>
<line x1="606.5" y1="745.9" x2="725.7" y2="745.9" stroke="#000" stroke-width="4"/>
<circle cx="606.5" cy="745.9" r="4.9"/>
<circle cx="725.7" cy="745.9" r="4.9"/>
<rect x="625.2" y="734.15" width="6.7" height="23.5" fill="#000"/>
<rect x="636.1" y="734.15" width="6.7" height="23.5" fill="#000"/>
<rect x="631.9" y="734.15" width="4.2" height="23.5" fill="#fff"/>
<text x="644.36" y="738.7" font-size="18.6" textLength="43.1" lengthAdjust="spacingAndGlyphs">15nF</text>
<line x1="757.3" y1="745.55" x2="967" y2="745.55" stroke="#000" stroke-width="4"/>
<circle cx="757.3" cy="745.55" r="4.9"/>
<circle cx="967" cy="745.55" r="4.9"/>
<rect x="823.3" y="734.4" width="82.7" height="22.3" rx="11.15" fill="#fff" stroke="#000" stroke-width="4"/>
<text x="846.58" y="751.95" font-size="18.6" textLength="35.17" lengthAdjust="spacingAndGlyphs">6.8k</text>
<line x1="997.5" y1="744.6" x2="1116.9" y2="744.6" stroke="#000" stroke-width="4"/>
<circle cx="997.5" cy="744.6" r="4.9"/>
<circle cx="1116.9" cy="744.6" r="4.9"/>
<rect x="1015.8" y="732.85" width="6.7" height="23.5" fill="#000"/>
<rect x="1027.3" y="732.85" width="6.7" height="23.5" fill="#000"/>
<rect x="1022.5" y="732.85" width="4.8" height="23.5" fill="#fff"/>
<text x="1033.56" y="735.7" font-size="18.6" textLength="43.2" lengthAdjust="spacingAndGlyphs">15nF</text>
<line x1="427" y1="779.5" x2="487" y2="779.5" stroke="#000" stroke-width="4" stroke-dasharray="3 2"/>
<circle cx="427" cy="779.5" r="4.9"/>
<circle cx="487" cy="779.5" r="11" fill="#fff" stroke="#000" stroke-width="4.4" stroke-dasharray="3 2.2"/>
<circle cx="487" cy="779.5" r="4.4"/>
<text x="431.77" y="775.1" font-size="18.6" textLength="30" lengthAdjust="spacingAndGlyphs">47k</text>
<line x1="606" y1="775.3" x2="729.4" y2="775.3" stroke="#000" stroke-width="4"/>
<circle cx="606" cy="775.3" r="4.9"/>
<circle cx="729.4" cy="775.3" r="4.9"/>
<rect x="632.8" y="764.15" width="81.2" height="22.3" rx="11.15" fill="#fff" stroke="#000" stroke-width="4"/>
<text x="652.51" y="781.7" font-size="18.6" textLength="40.34" lengthAdjust="spacingAndGlyphs">100k</text>
<line x1="756.2" y1="775.3" x2="905.7" y2="775.3" stroke="#000" stroke-width="4"/>
<circle cx="756.2" cy="775.3" r="4.9"/>
<circle cx="905.7" cy="775.3" r="4.9"/>
<rect x="780.6" y="764.15" width="82.2" height="22.3" rx="11.15" fill="#fff" stroke="#000" stroke-width="4"/>
<text x="805.98" y="781.7" font-size="18.6" textLength="30" lengthAdjust="spacingAndGlyphs">10k</text>
<text x="35.77" y="782.6" font-size="18.6" textLength="53.08" lengthAdjust="spacingAndGlyphs">100nF</text>
<line x1="39" y1="805.05" x2="68.8" y2="805.05" stroke="#000" stroke-width="4"/>
<circle cx="39" cy="805.05" r="5"/>
<circle cx="68.8" cy="805.05" r="5"/>
<rect x="44.5" y="793" width="6.9" height="22.9" fill="#000"/>
<rect x="56.2" y="793" width="6.9" height="22.9" fill="#000"/>
<rect x="51.4" y="793" width="4.8" height="22.9" fill="#fff"/>
<path d="M399.4 804.4 C390 806 385.2 812 385.2 820 V827.4 M385.2 845.1 V852 C385.2 860 378 863 368.9 864.3" fill="none" stroke="#000" stroke-width="3.7"/>
<circle cx="399.4" cy="804.4" r="4.9"/>
<circle cx="368.9" cy="864.3" r="4.9"/>
<rect x="373.7" y="827.4" width="23" height="6.2" fill="#000"/><rect x="373.7" y="838.4" width="23" height="6.7" fill="#000"/>
<text x="330.3" y="850.2" font-size="18.6" textLength="41.73" lengthAdjust="spacingAndGlyphs">33nF</text>
<line x1="428.3" y1="805.05" x2="727.6" y2="805.05" stroke="#000" stroke-width="4"/>
<circle cx="428.3" cy="805.05" r="4.9"/>
<circle cx="727.6" cy="805.05" r="4.9"/>
<rect x="530.7" y="793.9" width="82.3" height="22.3" rx="11.15" fill="#fff" stroke="#000" stroke-width="4"/>
<text x="554.04" y="811.45" font-size="18.6" textLength="35.17" lengthAdjust="spacingAndGlyphs">4.7k</text>
<line x1="39" y1="834.8" x2="307.8" y2="834.8" stroke="#000" stroke-width="4"/>
<circle cx="39" cy="834.8" r="4.9"/>
<circle cx="307.8" cy="834.8" r="4.9"/>
<rect x="119.1" y="823.65" width="81.5" height="22.3" rx="11.15" fill="#fff" stroke="#000" stroke-width="4"/>
<text x="138.96" y="841.2" font-size="18.6" textLength="40.34" lengthAdjust="spacingAndGlyphs">100k</text>
<line x1="428.35" y1="834.8" x2="727.85" y2="834.8" stroke="#000" stroke-width="4"/>
<circle cx="428.35" cy="834.8" r="4.9"/>
<circle cx="727.85" cy="834.8" r="4.9"/>
<rect x="587.5" y="820.45" width="7.5" height="28.7" fill="#000"/>
<path d="M587.5 834.8L571.7 823.15V846.45Z" fill="#000"/>
<text x="612.75" y="829.8" font-size="18.6" textLength="66.57" lengthAdjust="spacingAndGlyphs">1N4148</text>
<line x1="516.8" y1="864.55" x2="698.6" y2="864.55" stroke="#000" stroke-width="4"/>
<circle cx="516.8" cy="864.55" r="4.9"/>
<circle cx="698.6" cy="864.55" r="4.9"/>
<rect x="551.1" y="853.4" width="83.4" height="22.3" rx="11.15" fill="#fff" stroke="#000" stroke-width="4"/>
<text x="579.93" y="870.95" font-size="18.6" textLength="25.84" lengthAdjust="spacingAndGlyphs">1M</text>
<line x1="189.6" y1="894.3" x2="608.6" y2="894.3" stroke="#000" stroke-width="4"/>
<circle cx="189.6" cy="894.3" r="4.9"/>
<circle cx="608.6" cy="894.3" r="4.9"/>
<line x1="637.9" y1="894.8" x2="698.2" y2="894.8" stroke="#000" stroke-width="4"/>
<circle cx="637.9" cy="894.8" r="4.9"/>
<circle cx="698.2" cy="894.8" r="4.9"/>
<rect x="656.5" y="883.05" width="6.7" height="23.5" fill="#000"/>
<rect x="667.7" y="883.05" width="6.7" height="23.5" fill="#000"/>
<rect x="663.2" y="883.05" width="4.5" height="23.5" fill="#fff"/>
<text x="675.96" y="919" font-size="18.6" textLength="43.1" lengthAdjust="spacingAndGlyphs">15nF</text>
<line x1="518.3" y1="924.05" x2="666.2" y2="924.05" stroke="#000" stroke-width="4"/>
<circle cx="518.3" cy="924.05" r="4.9"/>
<circle cx="666.2" cy="924.05" r="4.9"/>
<circle cx="68.95" cy="894.1" r="17.2" fill="none" stroke="#000" stroke-width="3.4"/>
<path d="M39.45 894.1H98.45M68.95 864.6V923.6" stroke="#000" stroke-width="3.4"/>
<circle cx="1146.6" cy="893" r="17.2" fill="none" stroke="#000" stroke-width="3.4"/>
<path d="M1117.1 893H1176.1M1146.6 863.5V922.5" stroke="#000" stroke-width="3.4"/>
<text x="113.36" y="884.8" font-size="21.08" textLength="227.91" lengthAdjust="spacingAndGlyphs">A.Pussinen &amp; W.Spahn</text>
<text x="117.14" y="918.3" font-size="21.08" textLength="225.24" lengthAdjust="spacingAndGlyphs">www.dernulleffekt.de</text>
<rect x="742.5" y="850.6" width="236.9" height="58" fill="#fff"/>
<path d="M831.4 850.6H742.5V908.6H979.4V850.6H890.1" fill="none" stroke="#000" stroke-width="3.6"/>
<circle cx="755.5" cy="864.2" r="8.35" fill="#fff" stroke="#000" stroke-width="3.8"/>
<circle cx="755.5" cy="894.1" r="8.35" fill="#fff" stroke="#000" stroke-width="3.8"/>
<circle cx="785.5" cy="864.2" r="8.35" fill="#fff" stroke="#000" stroke-width="3.8"/>
<circle cx="785.5" cy="894.1" r="8.35" fill="#fff" stroke="#000" stroke-width="3.8"/>
<circle cx="815.5" cy="864.2" r="8.35" fill="#fff" stroke="#000" stroke-width="3.8"/>
<path d="M810.3 859L820.7 869.4M810.3 869.4L820.7 859" stroke="#000" stroke-width="1.4"/>
<circle cx="815.5" cy="894.1" r="8.35" fill="#fff" stroke="#000" stroke-width="3.8"/>
<path d="M810.3 888.9L820.7 899.3M810.3 899.3L820.7 888.9" stroke="#000" stroke-width="1.4"/>
<circle cx="845.5" cy="864.2" r="8.35" fill="#fff" stroke="#000" stroke-width="3.8"/>
<path d="M840.3 859L850.7 869.4M840.3 869.4L850.7 859" stroke="#000" stroke-width="1.4"/>
<circle cx="845.5" cy="894.1" r="8.35" fill="#fff" stroke="#000" stroke-width="3.8"/>
<path d="M840.3 888.9L850.7 899.3M840.3 899.3L850.7 888.9" stroke="#000" stroke-width="1.4"/>
<circle cx="875.5" cy="864.2" r="8.35" fill="#fff" stroke="#000" stroke-width="3.8"/>
<circle cx="875.5" cy="894.1" r="8.35" fill="#fff" stroke="#000" stroke-width="3.8"/>
<circle cx="905.5" cy="864.2" r="8.35" fill="#fff" stroke="#000" stroke-width="3.8"/>
<path d="M900.3 859L910.7 869.4M900.3 869.4L910.7 859" stroke="#000" stroke-width="1.4"/>
<circle cx="905.5" cy="894.1" r="8.35" fill="#fff" stroke="#000" stroke-width="3.8"/>
<path d="M900.3 888.9L910.7 899.3M900.3 899.3L910.7 888.9" stroke="#000" stroke-width="1.4"/>
<circle cx="935.5" cy="864.2" r="8.35" fill="#fff" stroke="#000" stroke-width="3.8"/>
<path d="M930.3 859L940.7 869.4M930.3 869.4L940.7 859" stroke="#000" stroke-width="1.4"/>
<circle cx="935.5" cy="894.1" r="8.35" fill="#fff" stroke="#000" stroke-width="3.8"/>
<path d="M930.3 888.9L940.7 899.3M930.3 899.3L940.7 888.9" stroke="#000" stroke-width="1.4"/>
<circle cx="965.5" cy="864.2" r="8.35" fill="#fff" stroke="#000" stroke-width="3.8"/>
<path d="M960.3 859L970.7 869.4M960.3 869.4L970.7 859" stroke="#000" stroke-width="1.4"/>
<circle cx="965.5" cy="894.1" r="8.35" fill="#fff" stroke="#000" stroke-width="3.8"/>
<path d="M960.3 888.9L970.7 899.3M960.3 899.3L970.7 888.9" stroke="#000" stroke-width="1.4"/>
<g transform="translate(766.7 838.6) rotate(-90)">
<text x="-0.85" y="0" font-size="19.19">-12V</text></g>
<g transform="translate(796.63 838.6) rotate(-90)">
<text x="-0.97" y="0" font-size="19.19">Com</text></g>
<g transform="translate(826.56 838.6) rotate(-90)">
<text x="-0.97" y="0" font-size="19.19">Com</text></g>
<g transform="translate(856.49 838.6) rotate(-90)">
<text x="-0.97" y="0" font-size="19.19">Com</text></g>
<g transform="translate(886.42 838.6) rotate(-90)">
<text x="-0.94" y="0" font-size="19.19">+12V</text></g>
<g transform="translate(916.35 838.6) rotate(-90)">
<text x="-0.94" y="0" font-size="19.19">+5V</text></g>
<g transform="translate(946.28 838.6) rotate(-90)">
<text x="-0.97" y="0" font-size="19.19">CV</text></g>
<g transform="translate(976.21 838.6) rotate(-90)">
<text x="-0.96" y="0" font-size="19.19">Gt</text></g>
<text class="b" x="987.04" y="799.7" font-size="37.79" textLength="158.49" lengthAdjust="spacingAndGlyphs">PS808KD</text>
<text class="b" x="987.08" y="837.3" font-size="38.08" textLength="199.64" lengthAdjust="spacingAndGlyphs">KICK DRUM</text>
<text class="b" x="990.37" y="874.6" font-size="37.21" textLength="103.08" lengthAdjust="spacingAndGlyphs">ver1.0</text></svg></body></html>
